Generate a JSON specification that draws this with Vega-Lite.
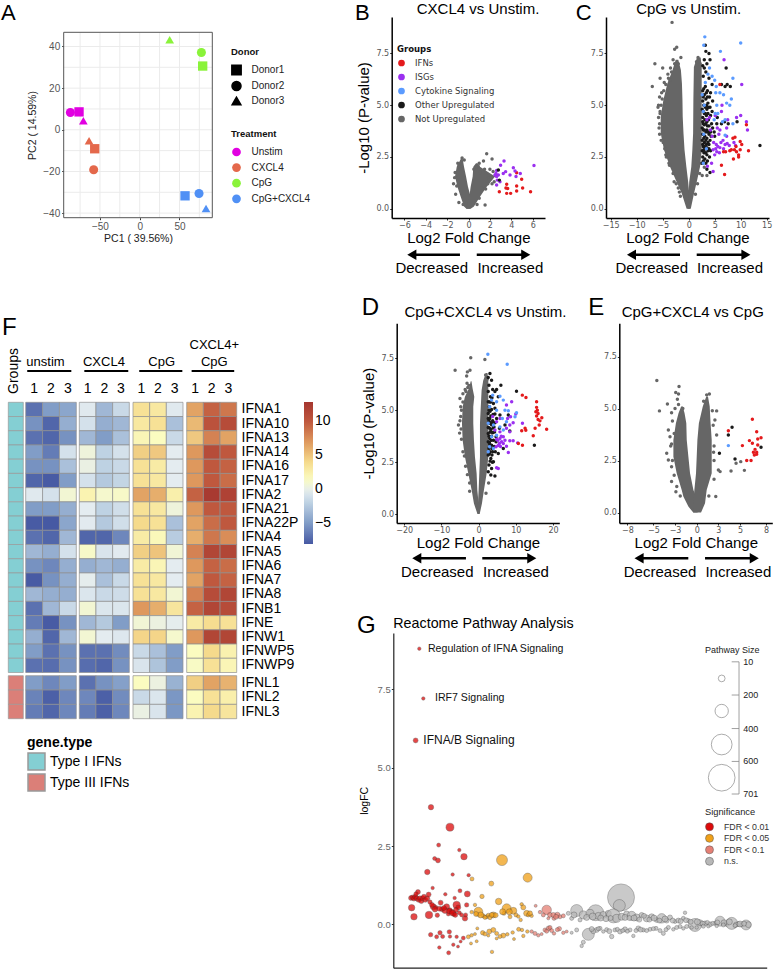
{
"$schema":"https://vega.github.io/schema/vega-lite/v6.json",
"width":777,"height":969,"padding":0,"autosize":{"type":"none"},"background":"white",
"config":{"view":{"stroke":null},"font":"Liberation Sans",
"axis":{"grid":false,"labelFont":"DejaVu Sans","labelFontSize":8,"labelColor":"#555","tickColor":"#333","tickSize":2,"labelPadding":1,"domainColor":"black","domainWidth":1.5,"titleFont":"Liberation Sans","titleFontSize":15,"titleFontWeight":"normal","titleColor":"black","labelOverlap":false,"labelFlush":false},
"legend":{"labelFont":"Liberation Sans","titleFont":"Liberation Sans","labelColor":"#222","titleColor":"#111"},
"style":{"lab":{"fontSize":15,"align":"center","baseline":"alphabetic","color":"black"},"let":{"fontSize":22,"align":"left","baseline":"alphabetic","color":"black"},"let2":{"fontSize":24,"align":"left","baseline":"alphabetic","color":"black"}}},
"resolve":{"scale":{"x":"independent","y":"independent","color":"independent","shape":"independent","size":"independent"},"axis":{"x":"independent","y":"independent"},"legend":{"color":"independent","shape":"independent","size":"independent"}},
"datasets":{
"heat":[
{"g":"IFNA1","t":"u","c":1,"v":-7},{"g":"IFNA1","t":"u","c":2,"v":-5},{"g":"IFNA1","t":"u","c":3,"v":-4.5},{"g":"IFNA1","t":"x","c":1,"v":-0.5},{"g":"IFNA1","t":"x","c":2,"v":-3.5},{"g":"IFNA1","t":"x","c":3,"v":-1.5},{"g":"IFNA1","t":"p","c":1,"v":3.5},{"g":"IFNA1","t":"p","c":2,"v":3},{"g":"IFNA1","t":"p","c":3,"v":-0.5},{"g":"IFNA1","t":"b","c":1,"v":6.5},{"g":"IFNA1","t":"b","c":2,"v":9.5},{"g":"IFNA1","t":"b","c":3,"v":8.5},
{"g":"IFNA10","t":"u","c":1,"v":-5.5},{"g":"IFNA10","t":"u","c":2,"v":-7.5},{"g":"IFNA10","t":"u","c":3,"v":-4},{"g":"IFNA10","t":"x","c":1,"v":-1},{"g":"IFNA10","t":"x","c":2,"v":-4},{"g":"IFNA10","t":"x","c":3,"v":-3.5},{"g":"IFNA10","t":"p","c":1,"v":3},{"g":"IFNA10","t":"p","c":2,"v":3.5},{"g":"IFNA10","t":"p","c":3,"v":-3},{"g":"IFNA10","t":"b","c":1,"v":5.5},{"g":"IFNA10","t":"b","c":2,"v":10.5},{"g":"IFNA10","t":"b","c":3,"v":11},
{"g":"IFNA13","t":"u","c":1,"v":-7},{"g":"IFNA13","t":"u","c":2,"v":-7.5},{"g":"IFNA13","t":"u","c":3,"v":-5.5},{"g":"IFNA13","t":"x","c":1,"v":-3.5},{"g":"IFNA13","t":"x","c":2,"v":-5},{"g":"IFNA13","t":"x","c":3,"v":-3},{"g":"IFNA13","t":"p","c":1,"v":2},{"g":"IFNA13","t":"p","c":2,"v":1.5},{"g":"IFNA13","t":"p","c":3,"v":-1.5},{"g":"IFNA13","t":"b","c":1,"v":4.8},{"g":"IFNA13","t":"b","c":2,"v":8},{"g":"IFNA13","t":"b","c":3,"v":6.5},
{"g":"IFNA14","t":"u","c":1,"v":-5},{"g":"IFNA14","t":"u","c":2,"v":-6.5},{"g":"IFNA14","t":"u","c":3,"v":-1},{"g":"IFNA14","t":"x","c":1,"v":0.5},{"g":"IFNA14","t":"x","c":2,"v":-2},{"g":"IFNA14","t":"x","c":3,"v":-1},{"g":"IFNA14","t":"p","c":1,"v":4.5},{"g":"IFNA14","t":"p","c":2,"v":4.8},{"g":"IFNA14","t":"p","c":3,"v":-0.3},{"g":"IFNA14","t":"b","c":1,"v":7},{"g":"IFNA14","t":"b","c":2,"v":11},{"g":"IFNA14","t":"b","c":3,"v":10},
{"g":"IFNA16","t":"u","c":1,"v":-5.5},{"g":"IFNA16","t":"u","c":2,"v":-5.5},{"g":"IFNA16","t":"u","c":3,"v":-3},{"g":"IFNA16","t":"x","c":1,"v":0.2},{"g":"IFNA16","t":"x","c":2,"v":-2},{"g":"IFNA16","t":"x","c":3,"v":-1.5},{"g":"IFNA16","t":"p","c":1,"v":3.5},{"g":"IFNA16","t":"p","c":2,"v":2.8},{"g":"IFNA16","t":"p","c":3,"v":-0.3},{"g":"IFNA16","t":"b","c":1,"v":7},{"g":"IFNA16","t":"b","c":2,"v":10},{"g":"IFNA16","t":"b","c":3,"v":9.5},
{"g":"IFNA17","t":"u","c":1,"v":-7.5},{"g":"IFNA17","t":"u","c":2,"v":-8},{"g":"IFNA17","t":"u","c":3,"v":-5},{"g":"IFNA17","t":"x","c":1,"v":-1},{"g":"IFNA17","t":"x","c":2,"v":-2.5},{"g":"IFNA17","t":"x","c":3,"v":-1.8},{"g":"IFNA17","t":"p","c":1,"v":3.5},{"g":"IFNA17","t":"p","c":2,"v":3},{"g":"IFNA17","t":"p","c":3,"v":-0.3},{"g":"IFNA17","t":"b","c":1,"v":7},{"g":"IFNA17","t":"b","c":2,"v":10},{"g":"IFNA17","t":"b","c":3,"v":9},
{"g":"IFNA2","t":"u","c":1,"v":-0.5},{"g":"IFNA2","t":"u","c":2,"v":-1},{"g":"IFNA2","t":"u","c":3,"v":0.8},{"g":"IFNA2","t":"x","c":1,"v":2.2},{"g":"IFNA2","t":"x","c":2,"v":1},{"g":"IFNA2","t":"x","c":3,"v":1.2},{"g":"IFNA2","t":"p","c":1,"v":6.5},{"g":"IFNA2","t":"p","c":2,"v":6},{"g":"IFNA2","t":"p","c":3,"v":2.5},{"g":"IFNA2","t":"b","c":1,"v":9.5},{"g":"IFNA2","t":"b","c":2,"v":12.5},{"g":"IFNA2","t":"b","c":3,"v":11.8},
{"g":"IFNA21","t":"u","c":1,"v":-5},{"g":"IFNA21","t":"u","c":2,"v":-5},{"g":"IFNA21","t":"u","c":3,"v":-4},{"g":"IFNA21","t":"x","c":1,"v":-0.3},{"g":"IFNA21","t":"x","c":2,"v":-2},{"g":"IFNA21","t":"x","c":3,"v":-1.2},{"g":"IFNA21","t":"p","c":1,"v":3.5},{"g":"IFNA21","t":"p","c":2,"v":3},{"g":"IFNA21","t":"p","c":3,"v":0.5},{"g":"IFNA21","t":"b","c":1,"v":7},{"g":"IFNA21","t":"b","c":2,"v":10},{"g":"IFNA21","t":"b","c":3,"v":10},
{"g":"IFNA22P","t":"u","c":1,"v":-8},{"g":"IFNA22P","t":"u","c":2,"v":-8.1},{"g":"IFNA22P","t":"u","c":3,"v":-4.5},{"g":"IFNA22P","t":"x","c":1,"v":-0.4},{"g":"IFNA22P","t":"x","c":2,"v":-2.5},{"g":"IFNA22P","t":"x","c":3,"v":-1.2},{"g":"IFNA22P","t":"p","c":1,"v":4},{"g":"IFNA22P","t":"p","c":2,"v":3.5},{"g":"IFNA22P","t":"p","c":3,"v":-3},{"g":"IFNA22P","t":"b","c":1,"v":6.5},{"g":"IFNA22P","t":"b","c":2,"v":9},{"g":"IFNA22P","t":"b","c":3,"v":10},
{"g":"IFNA4","t":"u","c":1,"v":-7},{"g":"IFNA4","t":"u","c":2,"v":-7.5},{"g":"IFNA4","t":"u","c":3,"v":-3.5},{"g":"IFNA4","t":"x","c":1,"v":-7.5},{"g":"IFNA4","t":"x","c":2,"v":-7.5},{"g":"IFNA4","t":"x","c":3,"v":-6},{"g":"IFNA4","t":"p","c":1,"v":2.8},{"g":"IFNA4","t":"p","c":2,"v":1.8},{"g":"IFNA4","t":"p","c":3,"v":-2.3},{"g":"IFNA4","t":"b","c":1,"v":6},{"g":"IFNA4","t":"b","c":2,"v":8.5},{"g":"IFNA4","t":"b","c":3,"v":7.5},
{"g":"IFNA5","t":"u","c":1,"v":-3.5},{"g":"IFNA5","t":"u","c":2,"v":-4},{"g":"IFNA5","t":"u","c":3,"v":-1},{"g":"IFNA5","t":"x","c":1,"v":1.2},{"g":"IFNA5","t":"x","c":2,"v":-0.8},{"g":"IFNA5","t":"x","c":3,"v":-0.4},{"g":"IFNA5","t":"p","c":1,"v":4.5},{"g":"IFNA5","t":"p","c":2,"v":5},{"g":"IFNA5","t":"p","c":3,"v":0.7},{"g":"IFNA5","t":"b","c":1,"v":8},{"g":"IFNA5","t":"b","c":2,"v":11.5},{"g":"IFNA5","t":"b","c":3,"v":11.5},
{"g":"IFNA6","t":"u","c":1,"v":-5.5},{"g":"IFNA6","t":"u","c":2,"v":-6},{"g":"IFNA6","t":"u","c":3,"v":-4},{"g":"IFNA6","t":"x","c":1,"v":-4},{"g":"IFNA6","t":"x","c":2,"v":-3.5},{"g":"IFNA6","t":"x","c":3,"v":-4},{"g":"IFNA6","t":"p","c":1,"v":2.8},{"g":"IFNA6","t":"p","c":2,"v":2},{"g":"IFNA6","t":"p","c":3,"v":-0.3},{"g":"IFNA6","t":"b","c":1,"v":7},{"g":"IFNA6","t":"b","c":2,"v":9.5},{"g":"IFNA6","t":"b","c":3,"v":9},
{"g":"IFNA7","t":"u","c":1,"v":-8},{"g":"IFNA7","t":"u","c":2,"v":-5.5},{"g":"IFNA7","t":"u","c":3,"v":-4},{"g":"IFNA7","t":"x","c":1,"v":-0.2},{"g":"IFNA7","t":"x","c":2,"v":-3},{"g":"IFNA7","t":"x","c":3,"v":-1.5},{"g":"IFNA7","t":"p","c":1,"v":3.5},{"g":"IFNA7","t":"p","c":2,"v":3},{"g":"IFNA7","t":"p","c":3,"v":-0.3},{"g":"IFNA7","t":"b","c":1,"v":6.5},{"g":"IFNA7","t":"b","c":2,"v":10},{"g":"IFNA7","t":"b","c":3,"v":9.5},
{"g":"IFNA8","t":"u","c":1,"v":-3.5},{"g":"IFNA8","t":"u","c":2,"v":-4},{"g":"IFNA8","t":"u","c":3,"v":-4},{"g":"IFNA8","t":"x","c":1,"v":-0.7},{"g":"IFNA8","t":"x","c":2,"v":-1.5},{"g":"IFNA8","t":"x","c":3,"v":-1.3},{"g":"IFNA8","t":"p","c":1,"v":3.5},{"g":"IFNA8","t":"p","c":2,"v":3},{"g":"IFNA8","t":"p","c":3,"v":0.8},{"g":"IFNA8","t":"b","c":1,"v":8},{"g":"IFNA8","t":"b","c":2,"v":11},{"g":"IFNA8","t":"b","c":3,"v":11.5},
{"g":"IFNB1","t":"u","c":1,"v":-7},{"g":"IFNB1","t":"u","c":2,"v":-3.5},{"g":"IFNB1","t":"u","c":3,"v":-1.5},{"g":"IFNB1","t":"x","c":1,"v":0.8},{"g":"IFNB1","t":"x","c":2,"v":-0.7},{"g":"IFNB1","t":"x","c":3,"v":-0.7},{"g":"IFNB1","t":"p","c":1,"v":7},{"g":"IFNB1","t":"p","c":2,"v":6},{"g":"IFNB1","t":"p","c":3,"v":3.2},{"g":"IFNB1","t":"b","c":1,"v":9.5},{"g":"IFNB1","t":"b","c":2,"v":11.5},{"g":"IFNB1","t":"b","c":3,"v":11},
{"g":"IFNE","t":"u","c":1,"v":-6.5},{"g":"IFNE","t":"u","c":2,"v":-8},{"g":"IFNE","t":"u","c":3,"v":-5.5},{"g":"IFNE","t":"x","c":1,"v":-3.5},{"g":"IFNE","t":"x","c":2,"v":-2.5},{"g":"IFNE","t":"x","c":3,"v":-5},{"g":"IFNE","t":"p","c":1,"v":0.7},{"g":"IFNE","t":"p","c":2,"v":0.3},{"g":"IFNE","t":"p","c":3,"v":-0.2},{"g":"IFNE","t":"b","c":1,"v":2.8},{"g":"IFNE","t":"b","c":2,"v":3.8},{"g":"IFNE","t":"b","c":3,"v":3.5},
{"g":"IFNW1","t":"u","c":1,"v":-4},{"g":"IFNW1","t":"u","c":2,"v":-7.5},{"g":"IFNW1","t":"u","c":3,"v":-3.5},{"g":"IFNW1","t":"x","c":1,"v":0.8},{"g":"IFNW1","t":"x","c":2,"v":-0.3},{"g":"IFNW1","t":"x","c":3,"v":-0.6},{"g":"IFNW1","t":"p","c":1,"v":4.2},{"g":"IFNW1","t":"p","c":2,"v":4.2},{"g":"IFNW1","t":"p","c":3,"v":1},{"g":"IFNW1","t":"b","c":1,"v":7},{"g":"IFNW1","t":"b","c":2,"v":11.5},{"g":"IFNW1","t":"b","c":3,"v":11.5},
{"g":"IFNWP5","t":"u","c":1,"v":-5},{"g":"IFNWP5","t":"u","c":2,"v":-7},{"g":"IFNWP5","t":"u","c":3,"v":-5.5},{"g":"IFNWP5","t":"x","c":1,"v":-7},{"g":"IFNWP5","t":"x","c":2,"v":-7},{"g":"IFNWP5","t":"x","c":3,"v":-5.8},{"g":"IFNWP5","t":"p","c":1,"v":-1.5},{"g":"IFNWP5","t":"p","c":2,"v":-3},{"g":"IFNWP5","t":"p","c":3,"v":-5},{"g":"IFNWP5","t":"b","c":1,"v":1.5},{"g":"IFNWP5","t":"b","c":2,"v":4},{"g":"IFNWP5","t":"b","c":3,"v":2.3},
{"g":"IFNWP9","t":"u","c":1,"v":-7},{"g":"IFNWP9","t":"u","c":2,"v":-7.2},{"g":"IFNWP9","t":"u","c":3,"v":-5.5},{"g":"IFNWP9","t":"x","c":1,"v":-7.2},{"g":"IFNWP9","t":"x","c":2,"v":-7.5},{"g":"IFNWP9","t":"x","c":3,"v":-5.5},{"g":"IFNWP9","t":"p","c":1,"v":-0.8},{"g":"IFNWP9","t":"p","c":2,"v":-2.8},{"g":"IFNWP9","t":"p","c":3,"v":-5},{"g":"IFNWP9","t":"b","c":1,"v":1.3},{"g":"IFNWP9","t":"b","c":2,"v":3.5},{"g":"IFNWP9","t":"b","c":3,"v":2},
{"g":"IFNL1","t":"u","c":1,"v":-5},{"g":"IFNL1","t":"u","c":2,"v":-6},{"g":"IFNL1","t":"u","c":3,"v":-5},{"g":"IFNL1","t":"x","c":1,"v":-7},{"g":"IFNL1","t":"x","c":2,"v":-5.5},{"g":"IFNL1","t":"x","c":3,"v":-4.8},{"g":"IFNL1","t":"p","c":1,"v":1.5},{"g":"IFNL1","t":"p","c":2,"v":0.3},{"g":"IFNL1","t":"p","c":3,"v":-3.8},{"g":"IFNL1","t":"b","c":1,"v":4.5},{"g":"IFNL1","t":"b","c":2,"v":6.5},{"g":"IFNL1","t":"b","c":3,"v":5.8},
{"g":"IFNL2","t":"u","c":1,"v":-6.2},{"g":"IFNL2","t":"u","c":2,"v":-7.8},{"g":"IFNL2","t":"u","c":3,"v":-6},{"g":"IFNL2","t":"x","c":1,"v":-6},{"g":"IFNL2","t":"x","c":2,"v":-7.8},{"g":"IFNL2","t":"x","c":3,"v":-5.8},{"g":"IFNL2","t":"p","c":1,"v":-1.5},{"g":"IFNL2","t":"p","c":2,"v":-0.7},{"g":"IFNL2","t":"p","c":3,"v":-5.3},{"g":"IFNL2","t":"b","c":1,"v":1.5},{"g":"IFNL2","t":"b","c":2,"v":3.5},{"g":"IFNL2","t":"b","c":3,"v":2.5},
{"g":"IFNL3","t":"u","c":1,"v":-6.5},{"g":"IFNL3","t":"u","c":2,"v":-7.5},{"g":"IFNL3","t":"u","c":3,"v":-6},{"g":"IFNL3","t":"x","c":1,"v":-6.5},{"g":"IFNL3","t":"x","c":2,"v":-7.8},{"g":"IFNL3","t":"x","c":3,"v":-6},{"g":"IFNL3","t":"p","c":1,"v":0.2},{"g":"IFNL3","t":"p","c":2,"v":-0.8},{"g":"IFNL3","t":"p","c":3,"v":-5.3},{"g":"IFNL3","t":"b","c":1,"v":2.2},{"g":"IFNL3","t":"b","c":2,"v":4},{"g":"IFNL3","t":"b","c":3,"v":3.2}
],
"genes":[{"g":"IFNA1","k":"Type I IFNs"},{"g":"IFNA10","k":"Type I IFNs"},{"g":"IFNA13","k":"Type I IFNs"},{"g":"IFNA14","k":"Type I IFNs"},{"g":"IFNA16","k":"Type I IFNs"},{"g":"IFNA17","k":"Type I IFNs"},{"g":"IFNA2","k":"Type I IFNs"},{"g":"IFNA21","k":"Type I IFNs"},{"g":"IFNA22P","k":"Type I IFNs"},{"g":"IFNA4","k":"Type I IFNs"},{"g":"IFNA5","k":"Type I IFNs"},{"g":"IFNA6","k":"Type I IFNs"},{"g":"IFNA7","k":"Type I IFNs"},{"g":"IFNA8","k":"Type I IFNs"},{"g":"IFNB1","k":"Type I IFNs"},{"g":"IFNE","k":"Type I IFNs"},{"g":"IFNW1","k":"Type I IFNs"},{"g":"IFNWP5","k":"Type I IFNs"},{"g":"IFNWP9","k":"Type I IFNs"},{"g":"IFNL1","k":"Type III IFNs"},{"g":"IFNL2","k":"Type III IFNs"},{"g":"IFNL3","k":"Type III IFNs"}]
},
"layer":[
{"data":{"values":[{"tr":"Unstim","do":"Donor1","x":-76.3,"y":8.6},{"tr":"Unstim","do":"Donor2","x":-87.2,"y":8.3},{"tr":"Unstim","do":"Donor3","x":-70.9,"y":4.3},{"tr":"CXCL4","do":"Donor3","x":-63.7,"y":-5.3},{"tr":"CXCL4","do":"Donor1","x":-56.6,"y":-9.1},{"tr":"CXCL4","do":"Donor2","x":-57.9,"y":-19.2},{"tr":"CpG","do":"Donor3","x":37.7,"y":43.2},{"tr":"CpG","do":"Donor2","x":77.6,"y":37.1},{"tr":"CpG","do":"Donor1","x":79.2,"y":30.6},{"tr":"CpG+CXCL4","do":"Donor1","x":57,"y":-31.7},{"tr":"CpG+CXCL4","do":"Donor2","x":74.6,"y":-30.6},{"tr":"CpG+CXCL4","do":"Donor3","x":83.4,"y":-37.8}]},
"encoding":{"x":{"field":"x","type":"quantitative","scale":{"domain":[-95.6,91.3],"range":[63.7,212.3],"nice":false,"zero":false},"axis":{"orient":"bottom","offset":-751.3,"values":[-50,0,50],"domain":false,"labelFont":"Liberation Sans","labelFontSize":10,"labelPadding":2,"title":"PC1 ( 39.56%)","titleFontSize":10.5,"titleColor":"#222","titlePadding":2}},"y":{"field":"y","type":"quantitative","scale":{"domain":[-42.2,46.8],"range":[217.7,32.3],"nice":false,"zero":false},"axis":{"orient":"left","offset":-63.7,"values":[-40,-20,0,20,40],"domain":false,"labelFont":"Liberation Sans","labelFontSize":10,"labelPadding":2,"title":"PC2 ( 14.59%)","titleFontSize":10.5,"titleColor":"#222","titlePadding":5}}},
"layer":[
{"data":{"values":[{"x":-75,"y":-42.2,"y2":46.8},{"x":-25,"y":-42.2,"y2":46.8},{"x":25,"y":-42.2,"y2":46.8},{"x":75,"y":-42.2,"y2":46.8},{"x":-50,"y":-42.2,"y2":46.8},{"x":0,"y":-42.2,"y2":46.8},{"x":50,"y":-42.2,"y2":46.8}]},"mark":{"type":"rule","color":"#ebebeb","strokeWidth":1},"encoding":{"y2":{"field":"y2"}}},
{"data":{"values":[{"x":-95.6,"x2":91.3,"y":40},{"x":-95.6,"x2":91.3,"y":30},{"x":-95.6,"x2":91.3,"y":20},{"x":-95.6,"x2":91.3,"y":10},{"x":-95.6,"x2":91.3,"y":0},{"x":-95.6,"x2":91.3,"y":-10},{"x":-95.6,"x2":91.3,"y":-20},{"x":-95.6,"x2":91.3,"y":-30},{"x":-95.6,"x2":91.3,"y":-40}]},"mark":{"type":"rule","color":"#ebebeb","strokeWidth":1},"encoding":{"x2":{"field":"x2"}}},
{"data":{"values":[{"x":-95.6,"x2":91.3,"y":-42.2,"y2":46.8}]},"mark":{"type":"rect","fillOpacity":0,"stroke":"#555","strokeWidth":1},"encoding":{"x2":{"field":"x2"},"y2":{"field":"y2"}}},
{"mark":{"type":"point","filled":true,"opacity":1},"encoding":{"size":{"field":"do","type":"nominal","scale":{"domain":["Donor1","Donor2","Donor3"],"range":[87,76,144]},"legend":{"orient":"none","legendX":231,"legendY":47,"title":"Donor","titleFontSize":9.5,"labelFontSize":10,"symbolFillColor":"black","symbolStrokeColor":"black","rowPadding":-1,"titlePadding":8,"labelOffset":9.5,"symbolOpacity":1}},"color":{"field":"tr","type":"nominal","scale":{"domain":["Unstim","CXCL4","CpG","CpG+CXCL4"],"range":["#E100E1","#E4684B","#8AF33A","#5090F5"]},"legend":{"orient":"none","legendX":231,"legendY":129,"title":"Treatment","titleFontSize":9.5,"labelFontSize":10,"symbolType":"circle","symbolSize":76,"rowPadding":4.6,"titlePadding":8,"labelOffset":9.5,"symbolOpacity":1}},"shape":{"field":"do","type":"nominal","scale":{"domain":["Donor1","Donor2","Donor3"],"range":["square","circle","triangle-up"]},"legend":{"orient":"none","legendX":231,"legendY":47,"title":"Donor","titleFontSize":9.5,"labelFontSize":10,"symbolFillColor":"black","symbolStrokeColor":"black","rowPadding":-1,"titlePadding":8,"labelOffset":9.5,"symbolOpacity":1}}}},
{"data":{"values":[{"x":-174.5,"y":52.7,"t":"A"}]},"mark":{"type":"text","style":"let"},"encoding":{"text":{"field":"t"}}}
]},

{"encoding":{"x":{"field":"x","type":"quantitative","scale":{"domain":[-7.18,7.15],"range":[391.7,545],"nice":false,"zero":false},"axis":{"orient":"bottom","offset":-751,"values":[-6,-4,-2,0,2,4,6],"title":"Log2 Fold Change","titlePadding":1}},"y":{"field":"y","type":"quantitative","scale":{"domain":[-0.45,9.26],"range":[218,17],"nice":false,"zero":false},"axis":{"orient":"left","offset":-391.7,"values":[0,2.5,5,7.5],"format":".1f","title":"-Log10 (P-value)","titlePadding":4}}},
"layer":[
{"data":{"values":[{"arm":"L","y":0,"x":-0.2,"x2":0.2},{"arm":"L","y":0.1,"x":-0.42,"x2":0.1},{"arm":"L","y":0.58,"x":-0.73,"x2":0.2},{"arm":"L","y":1.06,"x":-1.04,"x2":-0.05},{"arm":"L","y":1.55,"x":-1.26,"x2":-0.23},{"arm":"L","y":2.03,"x":-1.1,"x2":-0.42},{"arm":"L","y":2.43,"x":-0.7,"x2":-0.55},{"arm":"R","y":0,"x":-0.2,"x2":0.2},{"arm":"R","y":0.1,"x":-0.17,"x2":0.51},{"arm":"R","y":0.58,"x":0.08,"x2":1.07},{"arm":"R","y":1.06,"x":0.2,"x2":1.7},{"arm":"R","y":1.55,"x":0.39,"x2":2.48},{"arm":"R","y":2.03,"x":0.45,"x2":1.07},{"arm":"R","y":2.2,"x":0.7,"x2":0.85}]},"mark":{"type":"area","orient":"horizontal","color":"#666"},"encoding":{"x2":{"field":"x2"},"detail":{"field":"arm"}}},
{"data":{"values":[{"x":1.7,"y":2.65},{"x":2.2,"y":2.4},{"x":-0.6,"y":2.45},{"x":-0.4,"y":2.35},{"x":-1,"y":2.2},{"x":-0.9,"y":2.05},{"x":1,"y":2.2},{"x":0.9,"y":2.05},{"x":1.4,"y":2.3},{"x":2,"y":1.9},{"x":2.3,"y":1.8},{"x":2.5,"y":1.6},{"x":2.4,"y":1.3},{"x":2.2,"y":1.2},{"x":1.7,"y":1.6},{"x":1.9,"y":1.4},{"x":1.2,"y":1},{"x":1.6,"y":0.95},{"x":1.55,"y":0.18},{"x":-1.3,"y":1.5},{"x":-1.4,"y":1.2},{"x":-1.1,"y":1.1},{"x":-1.2,"y":0.7},{"x":-0.9,"y":0.3},{"x":-0.5,"y":0.2},{"x":1,"y":0.5},{"x":0.8,"y":0.2},{"x":1.5,"y":1.9},{"x":1.1,"y":1.75},{"x":0.7,"y":2},{"x":2.1,"y":1.5},{"x":-1.25,"y":1.75},{"x":-0.75,"y":1.9},{"x":0.5,"y":1.9},{"x":1.8,"y":1.2}]},"mark":{"type":"circle","size":12,"opacity":1,"color":"#666"}},
{"data":{"values":[{"x":4.5,"y":1.74,"g":"IFN"},{"x":4.97,"y":1.42,"g":"IFN"},{"x":3.57,"y":1.18,"g":"IFN"},{"x":5.06,"y":1,"g":"IFN"},{"x":4.5,"y":1.1,"g":"IFN"},{"x":3.66,"y":0.98,"g":"IFN"},{"x":2.88,"y":0.82,"g":"IFN"},{"x":4.5,"y":0.85,"g":"IFN"},{"x":5.8,"y":0.82,"g":"IFN"},{"x":3.57,"y":0.74,"g":"IFN"},{"x":3.94,"y":0.74,"g":"IFN"},{"x":3.5,"y":1,"g":"IFN"},{"x":6.12,"y":2.09,"g":"ISG"},{"x":3.32,"y":2.3,"g":"ISG"},{"x":3,"y":2.1,"g":"ISG"},{"x":4.19,"y":1.98,"g":"ISG"},{"x":3.47,"y":1.79,"g":"ISG"},{"x":2.63,"y":1.84,"g":"ISG"},{"x":3.25,"y":1.7,"g":"ISG"},{"x":2.48,"y":1.63,"g":"ISG"},{"x":3.88,"y":1.63,"g":"ISG"},{"x":4.35,"y":1.82,"g":"ISG"},{"x":4.44,"y":1.55,"g":"ISG"},{"x":4.84,"y":1.7,"g":"ISG"},{"x":2.79,"y":1.63,"g":"ISG"},{"x":2.63,"y":1.55,"g":"ISG"},{"x":2.69,"y":1.38,"g":"ISG"},{"x":2.94,"y":1.3,"g":"ISG"},{"x":2.63,"y":1.14,"g":"ISG"},{"x":2.57,"y":1.7,"g":"ISG"},{"x":2.79,"y":1.87,"g":"Oth"},{"x":2.88,"y":1.38,"g":"Oth"}]},"mark":{"type":"circle","size":12,"opacity":1},"encoding":{"color":{"field":"g","type":"nominal","scale":{"domain":["IFN","ISG","Cyt","Oth","Not"],"range":["#E41A1C","#9B30F0","#5B9BFF","#1a1a1a","#666666"]},"legend":{"orient":"none","legendX":397,"legendY":45,"title":"Groups","titleFont":"DejaVu Sans","titleFontSize":8.5,"labelFont":"DejaVu Sans","labelFontSize":8.5,"labelColor":"#333","symbolType":"circle","symbolSize":45,"rowPadding":5,"labelOffset":9,"symbolOpacity":1,"labelExpr":"{'IFN':'IFNs','ISG':'ISGs','Cyt':'Cytokine Signaling','Oth':'Other Upregulated','Not':'Not Upregulated'}[datum.label]"}}}},
{"data":{"values":[{"x":-0.8,"x2":-5.3,"y":-2.22},{"x":0.77,"x2":5.35,"y":-2.22}]},"mark":{"type":"rule","strokeWidth":2.5,"color":"black"},"encoding":{"x2":{"field":"x2"}}},
{"data":{"values":[{"x":-5.3,"y":-2.22}]},"mark":{"type":"point","shape":"triangle-left","size":110,"filled":true,"color":"black","opacity":1}},
{"data":{"values":[{"x":5.35,"y":-2.22}]},"mark":{"type":"point","shape":"triangle-right","size":110,"filled":true,"color":"black","opacity":1}},
{"data":{"values":[{"x":0.89,"y":9.42,"t":"CXCL4 vs Unstim."},{"x":-3.44,"y":-3.09,"t":"Decreased"},{"x":3.91,"y":-3.09,"t":"Increased"}]},"mark":{"type":"text","style":"lab"},"encoding":{"text":{"field":"t"}}},
{"data":{"values":[{"x":-10.6,"y":9.12,"t":"B"}]},"mark":{"type":"text","style":"let"},"encoding":{"text":{"field":"t"}}}
]},

{"encoding":{"x":{"field":"x","type":"quantitative","scale":{"domain":[-15.9,15.44],"range":[606,769],"nice":false,"zero":false},"axis":{"orient":"bottom","offset":-751,"values":[-15,-10,-5,0,5,10,15],"title":"Log2 Fold Change","titlePadding":1}},"y":{"field":"y","type":"quantitative","scale":{"domain":[-0.45,9.26],"range":[218,17],"nice":false,"zero":false},"axis":{"orient":"left","offset":-606,"values":[0,2.5,5,7.5],"format":".1f","title":null}}},
"layer":[
{"data":{"values":[{"arm":"L","y":0,"x":-0.4,"x2":0.25},{"arm":"L","y":0.74,"x":-1.35,"x2":0.1},{"arm":"L","y":1.29,"x":-2.31,"x2":-0.1},{"arm":"L","y":2.03,"x":-3.59,"x2":-0.45},{"arm":"L","y":2.83,"x":-4.74,"x2":-0.8},{"arm":"L","y":3.64,"x":-5.38,"x2":-1},{"arm":"L","y":4.44,"x":-5.38,"x2":-1.15},{"arm":"L","y":5.25,"x":-4.87,"x2":-1.2},{"arm":"L","y":6.05,"x":-4.1,"x2":-1.3},{"arm":"L","y":6.7,"x":-3.1,"x2":-1.5},{"arm":"L","y":7.2,"x":-2.5,"x2":-2},{"arm":"R","y":0,"x":-0.2,"x2":0.4},{"arm":"R","y":0.74,"x":0,"x2":1.03},{"arm":"R","y":1.29,"x":0.1,"x2":1.54},{"arm":"R","y":2.03,"x":0.5,"x2":2.18},{"arm":"R","y":2.83,"x":0.7,"x2":2.5},{"arm":"R","y":3.64,"x":0.85,"x2":2.5},{"arm":"R","y":5.25,"x":0.9,"x2":2.5},{"arm":"R","y":6.85,"x":1,"x2":2.5},{"arm":"R","y":7.3,"x":1.6,"x2":2.3}]},"mark":{"type":"area","orient":"horizontal","color":"#666"},"encoding":{"x2":{"field":"x2"},"detail":{"field":"arm"}}},
{"data":{"values":[{"x":-3.2,"y":9},{"x":-6.5,"y":7},{"x":-2.3,"y":7.8},{"x":-2.7,"y":7.7},{"x":-5,"y":6.8},{"x":-3,"y":7.2},{"x":-3.5,"y":6.8},{"x":-7,"y":5.9},{"x":-5.5,"y":6.3},{"x":-4.7,"y":6.1},{"x":-5.6,"y":5.4},{"x":-5.8,"y":5},{"x":-5.2,"y":5.6},{"x":-5.8,"y":4.4},{"x":-5.7,"y":3.9},{"x":-5.5,"y":4.7},{"x":-4.9,"y":3.2},{"x":-4.4,"y":2.6},{"x":2.2,"y":7},{"x":1.8,"y":7.3},{"x":-1.5,"y":7.3},{"x":1.5,"y":7.1},{"x":-4.6,"y":2.9},{"x":3,"y":2},{"x":3.5,"y":1.6},{"x":-3.8,"y":2.2},{"x":-3,"y":1.7},{"x":-2,"y":7},{"x":-4,"y":6.5},{"x":-3.6,"y":6.2},{"x":-5.9,"y":4.9},{"x":-5,"y":3.7},{"x":2.6,"y":1.6},{"x":2.9,"y":2.7},{"x":-2.8,"y":1.3},{"x":-1.8,"y":0.8},{"x":-3.7,"y":2.1},{"x":-4.3,"y":2.5},{"x":-5.3,"y":3.3},{"x":-5.6,"y":3.6},{"x":-5.6,"y":4.1},{"x":-5.5,"y":4.6},{"x":-5.3,"y":5},{"x":-5.1,"y":5.3},{"x":-4.8,"y":5.7},{"x":-4.4,"y":6},{"x":-3.9,"y":6.3},{"x":-3.3,"y":6.6},{"x":-2.7,"y":7},{"x":-2.4,"y":1.2},{"x":-2,"y":1},{"x":-1.6,"y":0.6},{"x":1.3,"y":0.7},{"x":1.7,"y":1.2},{"x":2.1,"y":1.7},{"x":2.4,"y":2.2}]},"mark":{"type":"circle","size":12,"opacity":1,"color":"#666"}},
{"data":{"values":[{"x":3.2,"y":7.9,"g":"Oth"},{"x":3.3,"y":7.6,"g":"Oth"},{"x":3.9,"y":7.5,"g":"Oth"},{"x":4.1,"y":7.2,"g":"Oth"},{"x":3,"y":7.2,"g":"Oth"},{"x":3.5,"y":7,"g":"Oth"},{"x":2.7,"y":6.9,"g":"Oth"},{"x":3,"y":6.8,"g":"Oth"},{"x":3.3,"y":6.6,"g":"Oth"},{"x":7.2,"y":6.8,"g":"Oth"},{"x":2.8,"y":6.4,"g":"Oth"},{"x":3.9,"y":6.3,"g":"Oth"},{"x":6.3,"y":6,"g":"Oth"},{"x":7,"y":5.9,"g":"Oth"},{"x":7.4,"y":6,"g":"Oth"},{"x":3.2,"y":5.9,"g":"Oth"},{"x":3.6,"y":5.7,"g":"Oth"},{"x":4.2,"y":5.6,"g":"Oth"},{"x":3,"y":5.5,"g":"Oth"},{"x":2.7,"y":5.2,"g":"Oth"},{"x":3.3,"y":5.3,"g":"Oth"},{"x":4,"y":5.4,"g":"Oth"},{"x":3.7,"y":5.1,"g":"Oth"},{"x":2.9,"y":5,"g":"Oth"},{"x":3.2,"y":4.9,"g":"Oth"},{"x":3.5,"y":4.8,"g":"Oth"},{"x":4.1,"y":4.9,"g":"Oth"},{"x":2.6,"y":4.8,"g":"Oth"},{"x":3,"y":4.6,"g":"Oth"},{"x":3.4,"y":4.5,"g":"Oth"},{"x":3.7,"y":4.6,"g":"Oth"},{"x":2.7,"y":4.4,"g":"Oth"},{"x":3.1,"y":4.3,"g":"Oth"},{"x":4.5,"y":4.7,"g":"Oth"},{"x":5.5,"y":4.4,"g":"Oth"},{"x":6.9,"y":4.2,"g":"Oth"},{"x":7.6,"y":4.1,"g":"Oth"},{"x":9.3,"y":4.2,"g":"Oth"},{"x":2.8,"y":4.1,"g":"Oth"},{"x":3.3,"y":4.1,"g":"Oth"},{"x":3.9,"y":4,"g":"Oth"},{"x":4.4,"y":4.1,"g":"Oth"},{"x":2.6,"y":3.9,"g":"Oth"},{"x":3,"y":3.8,"g":"Oth"},{"x":3.5,"y":3.8,"g":"Oth"},{"x":3.9,"y":3.6,"g":"Oth"},{"x":4.6,"y":3.9,"g":"Oth"},{"x":2.7,"y":3.6,"g":"Oth"},{"x":3.1,"y":3.5,"g":"Oth"},{"x":3.5,"y":3.4,"g":"Oth"},{"x":4.1,"y":3.3,"g":"Oth"},{"x":2.6,"y":3.3,"g":"Oth"},{"x":3,"y":3.2,"g":"Oth"},{"x":3.4,"y":3.1,"g":"Oth"},{"x":3.9,"y":3.1,"g":"Oth"},{"x":2.8,"y":3,"g":"Oth"},{"x":3.2,"y":2.9,"g":"Oth"},{"x":3.7,"y":2.8,"g":"Oth"},{"x":4.2,"y":2.8,"g":"Oth"},{"x":2.6,"y":2.8,"g":"Oth"},{"x":3,"y":2.7,"g":"Oth"},{"x":3.5,"y":2.6,"g":"Oth"},{"x":4,"y":2.5,"g":"Oth"},{"x":2.7,"y":2.5,"g":"Oth"},{"x":3.1,"y":2.4,"g":"Oth"},{"x":3.6,"y":2.3,"g":"Oth"},{"x":2.6,"y":2.2,"g":"Oth"},{"x":3.5,"y":1.9,"g":"Oth"},{"x":4.1,"y":1.75,"g":"Oth"},{"x":13.7,"y":3.05,"g":"Oth"},{"x":5,"y":3.5,"g":"Oth"},{"x":6.3,"y":4.1,"g":"Oth"},{"x":4.5,"y":6,"g":"Oth"},{"x":5.4,"y":4.1,"g":"Oth"},{"x":8,"y":5.9,"g":"Oth"},{"x":2.9,"y":5.8,"g":"Oth"},{"x":3.4,"y":5.6,"g":"Oth"},{"x":4.6,"y":5.2,"g":"Oth"},{"x":3.8,"y":4.3,"g":"Oth"},{"x":4.9,"y":3.7,"g":"Oth"},{"x":4.3,"y":3.5,"g":"Oth"},{"x":2.7,"y":5.7,"g":"Oth"},{"x":3.6,"y":5.4,"g":"Oth"},{"x":2.8,"y":5.4,"g":"Oth"},{"x":3.4,"y":5,"g":"Oth"},{"x":2.8,"y":4.7,"g":"Oth"},{"x":3.8,"y":4.9,"g":"Oth"},{"x":3.2,"y":4.6,"g":"Oth"},{"x":3.5,"y":4.2,"g":"Oth"},{"x":2.7,"y":4.2,"g":"Oth"},{"x":3,"y":4.05,"g":"Oth"},{"x":3.6,"y":4,"g":"Oth"},{"x":2.8,"y":3.8,"g":"Oth"},{"x":3.3,"y":3.7,"g":"Oth"},{"x":3.7,"y":3.7,"g":"Oth"},{"x":2.9,"y":3.4,"g":"Oth"},{"x":3.3,"y":3.3,"g":"Oth"},{"x":3.7,"y":3.2,"g":"Oth"},{"x":2.7,"y":3.1,"g":"Oth"},{"x":3,"y":3,"g":"Oth"},{"x":3.5,"y":2.95,"g":"Oth"},{"x":2.9,"y":2.85,"g":"Oth"},{"x":3.3,"y":2.7,"g":"Oth"},{"x":2.8,"y":2.3,"g":"Oth"},{"x":3.3,"y":2.2,"g":"Oth"},{"x":3.9,"y":2.9,"g":"Oth"},{"x":4.2,"y":3.7,"g":"Oth"},{"x":4.2,"y":4.5,"g":"Oth"},
{"x":6.8,"y":7.2,"g":"ISG"},{"x":10.2,"y":6,"g":"ISG"},{"x":11.1,"y":4.2,"g":"ISG"},{"x":11.3,"y":3.8,"g":"ISG"},{"x":10,"y":4.5,"g":"ISG"},{"x":9.2,"y":4.4,"g":"ISG"},{"x":7.5,"y":4.3,"g":"ISG"},{"x":7.3,"y":3.9,"g":"ISG"},{"x":6.3,"y":4.7,"g":"ISG"},{"x":5.1,"y":4.5,"g":"ISG"},{"x":4,"y":4.4,"g":"ISG"},{"x":6,"y":3.8,"g":"ISG"},{"x":5.8,"y":3.6,"g":"ISG"},{"x":4.5,"y":3.5,"g":"ISG"},{"x":4.8,"y":3.2,"g":"ISG"},{"x":5.3,"y":3.1,"g":"ISG"},{"x":5.6,"y":3,"g":"ISG"},{"x":5.2,"y":2.9,"g":"ISG"},{"x":6,"y":2.95,"g":"ISG"},{"x":6.2,"y":3.2,"g":"ISG"},{"x":6.6,"y":3.3,"g":"ISG"},{"x":7,"y":3.1,"g":"ISG"},{"x":7.4,"y":3.15,"g":"ISG"},{"x":7.8,"y":3.05,"g":"ISG"},{"x":4.7,"y":2.85,"g":"ISG"},{"x":5.4,"y":2.75,"g":"ISG"},{"x":5.9,"y":2.7,"g":"ISG"},{"x":6.7,"y":2.9,"g":"ISG"},{"x":5,"y":2.6,"g":"ISG"},{"x":4.4,"y":2.2,"g":"ISG"},{"x":4.7,"y":1.8,"g":"ISG"},{"x":3.6,"y":2.05,"g":"ISG"},{"x":9,"y":3.05,"g":"ISG"},{"x":8.7,"y":3.2,"g":"ISG"},{"x":3.5,"y":4.3,"g":"ISG"},{"x":4.2,"y":3.8,"g":"ISG"},{"x":5.5,"y":3.9,"g":"ISG"},{"x":7.3,"y":3.5,"g":"ISG"},{"x":6.4,"y":5,"g":"ISG"},
{"x":3.1,"y":8.3,"g":"Cyt"},{"x":2.9,"y":7.9,"g":"Cyt"},{"x":10,"y":8,"g":"Cyt"},{"x":6.1,"y":7.6,"g":"Cyt"},{"x":4,"y":6.8,"g":"Cyt"},{"x":4.5,"y":6.4,"g":"Cyt"},{"x":8.5,"y":6.3,"g":"Cyt"},{"x":3.2,"y":6.1,"g":"Cyt"},{"x":5,"y":6.2,"g":"Cyt"},{"x":5.3,"y":5.9,"g":"Cyt"},{"x":5.2,"y":5.6,"g":"Cyt"},{"x":6,"y":5.6,"g":"Cyt"},{"x":6.7,"y":5.5,"g":"Cyt"},{"x":8.2,"y":5.3,"g":"Cyt"},{"x":7.3,"y":5.1,"g":"Cyt"},{"x":7.9,"y":5,"g":"Cyt"},{"x":5.4,"y":5,"g":"Cyt"},{"x":3,"y":5,"g":"Cyt"},{"x":2.8,"y":4.7,"g":"Cyt"},{"x":5.1,"y":4.6,"g":"Cyt"},{"x":5.6,"y":4.6,"g":"Cyt"},{"x":4.9,"y":4.3,"g":"Cyt"},{"x":6.5,"y":4.2,"g":"Cyt"},{"x":7,"y":4.3,"g":"Cyt"},{"x":8.5,"y":4.1,"g":"Cyt"},{"x":7,"y":3.55,"g":"Cyt"},{"x":2.8,"y":2.2,"g":"Cyt"},{"x":3.4,"y":2.9,"g":"Cyt"},{"x":2.9,"y":3.6,"g":"Cyt"},{"x":3.7,"y":6.5,"g":"Cyt"},{"x":2.6,"y":5.5,"g":"Cyt"},
{"x":6,"y":6,"g":"IFN"},{"x":8.5,"y":3.4,"g":"IFN"},{"x":8.9,"y":3.45,"g":"IFN"},{"x":9.9,"y":3.25,"g":"IFN"},{"x":10.2,"y":3.1,"g":"IFN"},{"x":9.1,"y":3,"g":"IFN"},{"x":8.2,"y":2.85,"g":"IFN"},{"x":8.8,"y":2.85,"g":"IFN"},{"x":9.2,"y":2.75,"g":"IFN"},{"x":9.6,"y":2.6,"g":"IFN"},{"x":9.9,"y":2.85,"g":"IFN"},{"x":11.5,"y":2.8,"g":"IFN"},{"x":6.7,"y":2.75,"g":"IFN"},{"x":7.1,"y":2.75,"g":"IFN"},{"x":8.6,"y":2.4,"g":"IFN"},{"x":9.6,"y":2.5,"g":"IFN"},{"x":6.3,"y":2.1,"g":"IFN"},{"x":6.9,"y":1.65,"g":"IFN"},{"x":11.1,"y":4.05,"g":"IFN"},{"x":7.9,"y":2.8,"g":"IFN"}]},"mark":{"type":"circle","size":12,"opacity":1},"encoding":{"color":{"field":"g","type":"nominal","scale":{"domain":["IFN","ISG","Cyt","Oth","Not"],"range":["#E41A1C","#9B30F0","#5B9BFF","#1a1a1a","#666666"]},"legend":null}}},
{"data":{"values":[{"x":-1.67,"x2":-11,"y":-2.22},{"x":1.54,"x2":11,"y":-2.22}]},"mark":{"type":"rule","strokeWidth":2.5,"color":"black"},"encoding":{"x2":{"field":"x2"}}},
{"data":{"values":[{"x":-11,"y":-2.22}]},"mark":{"type":"point","shape":"triangle-left","size":110,"filled":true,"color":"black","opacity":1}},
{"data":{"values":[{"x":11,"y":-2.22}]},"mark":{"type":"point","shape":"triangle-right","size":110,"filled":true,"color":"black","opacity":1}},
{"data":{"values":[{"x":0,"y":9.42,"t":"CpG vs Unstim."},{"x":-7.1,"y":-3.09,"t":"Decreased"},{"x":7.95,"y":-3.09,"t":"Increased"}]},"mark":{"type":"text","style":"lab"},"encoding":{"text":{"field":"t"}}},
{"data":{"values":[{"x":-21.7,"y":9.12,"t":"C"}]},"mark":{"type":"text","style":"let"},"encoding":{"text":{"field":"t"}}}
]},

{"encoding":{"x":{"field":"x","type":"quantitative","scale":{"domain":[-22,21.7],"range":[396.7,559.3],"nice":false,"zero":false},"axis":{"orient":"bottom","offset":-446,"values":[-20,-10,0,10,20],"title":"Log2 Fold Change","titlePadding":1}},"y":{"field":"y","type":"quantitative","scale":{"domain":[-0.43,9.19],"range":[523,323.3],"nice":false,"zero":false},"axis":{"orient":"left","offset":-396.7,"values":[0,2.5,5,7.5],"format":".1f","title":"-Log10 (P-value)","titlePadding":4}}},
"layer":[
{"data":{"values":[{"arm":"L","y":0,"x":-0.3,"x2":0.2},{"arm":"L","y":0.51,"x":-1.24,"x2":0.02},{"arm":"L","y":1.16,"x":-1.86,"x2":-0.34},{"arm":"L","y":1.96,"x":-2.76,"x2":-0.52},{"arm":"L","y":2.76,"x":-3.66,"x2":-0.97},{"arm":"L","y":3.56,"x":-4.28,"x2":-1.24},{"arm":"L","y":4.37,"x":-4.46,"x2":-1.42},{"arm":"L","y":5.17,"x":-4.28,"x2":-1.42},{"arm":"L","y":5.65,"x":-3.66,"x2":-1.15},{"arm":"L","y":6.05,"x":-2.6,"x2":-1.6},{"arm":"L","y":6.4,"x":-2.1,"x2":-1.9},{"arm":"R","y":0,"x":-0.2,"x2":0.3},{"arm":"R","y":0.51,"x":-0.16,"x2":0.91},{"arm":"R","y":1.16,"x":0.02,"x2":1.45},{"arm":"R","y":1.96,"x":0.2,"x2":2.17},{"arm":"R","y":2.76,"x":0.38,"x2":2.62},{"arm":"R","y":4.37,"x":0.38,"x2":2.62},{"arm":"R","y":5.97,"x":0.82,"x2":2.62},{"arm":"R","y":6.45,"x":1.27,"x2":2.62},{"arm":"R","y":6.8,"x":2,"x2":2.4}]},"mark":{"type":"area","orient":"horizontal","color":"#666"},"encoding":{"x2":{"field":"x2"},"detail":{"field":"arm"}}},
{"data":{"values":[{"x":-6.3,"y":6.93},{"x":-2.1,"y":7.53},{"x":1.7,"y":7.45},{"x":-2.3,"y":6.93},{"x":-3,"y":6.85},{"x":-5,"y":5.57},{"x":-5.4,"y":4.29},{"x":-4.8,"y":5.17},{"x":-5,"y":4.5},{"x":-3.2,"y":6.65},{"x":-3.6,"y":6},{"x":-4.2,"y":5.8},{"x":1.9,"y":6.7},{"x":2.3,"y":6.5},{"x":-2.6,"y":6.2},{"x":-3.1,"y":6.3},{"x":-4.6,"y":3.6},{"x":-4.2,"y":3},{"x":-3.5,"y":2.3},{"x":-5.1,"y":3.9},{"x":2.7,"y":1.5},{"x":2,"y":1},{"x":-2.4,"y":1.1},{"x":-4.8,"y":4.7},{"x":-4.7,"y":4.1},{"x":-4.6,"y":5},{"x":-4.2,"y":5.4},{"x":-3.8,"y":2.8},{"x":-3,"y":1.9},{"x":-2.4,"y":1.5},{"x":-3.4,"y":5.9},{"x":-2.9,"y":6.1}]},"mark":{"type":"circle","size":12,"opacity":1,"color":"#666"}},
{"data":{"values":[{"x":3.06,"y":6.77,"g":"Oth"},{"x":2.6,"y":6.58,"g":"Oth"},{"x":3.5,"y":6.45,"g":"Oth"},{"x":2.8,"y":6.21,"g":"Oth"},{"x":4.85,"y":6,"g":"Oth"},{"x":6,"y":6.21,"g":"Oth"},{"x":3.8,"y":6,"g":"Oth"},{"x":4.4,"y":5.9,"g":"Oth"},{"x":2.6,"y":5.9,"g":"Oth"},{"x":5.3,"y":5.65,"g":"Oth"},{"x":3.2,"y":5.65,"g":"Oth"},{"x":2.6,"y":5.41,"g":"Oth"},{"x":4,"y":5.33,"g":"Oth"},{"x":2.9,"y":5.17,"g":"Oth"},{"x":3.5,"y":5.04,"g":"Oth"},{"x":2.6,"y":4.85,"g":"Oth"},{"x":4.4,"y":4.82,"g":"Oth"},{"x":3.3,"y":4.72,"g":"Oth"},{"x":5.75,"y":4.77,"g":"Oth"},{"x":2.6,"y":4.6,"g":"Oth"},{"x":3.8,"y":4.5,"g":"Oth"},{"x":4.85,"y":4.6,"g":"Oth"},{"x":3,"y":4.37,"g":"Oth"},{"x":2.6,"y":4.17,"g":"Oth"},{"x":4.15,"y":4.2,"g":"Oth"},{"x":3.3,"y":4.08,"g":"Oth"},{"x":5.6,"y":4.13,"g":"Oth"},{"x":7.1,"y":4.29,"g":"Oth"},{"x":8.4,"y":4,"g":"Oth"},{"x":2.6,"y":3.88,"g":"Oth"},{"x":3.8,"y":3.92,"g":"Oth"},{"x":4.7,"y":3.72,"g":"Oth"},{"x":3,"y":3.64,"g":"Oth"},{"x":4,"y":3.56,"g":"Oth"},{"x":2.6,"y":3.48,"g":"Oth"},{"x":3.5,"y":3.32,"g":"Oth"},{"x":4.7,"y":3.48,"g":"Oth"},{"x":2.8,"y":3.16,"g":"Oth"},{"x":3.8,"y":3,"g":"Oth"},{"x":5.3,"y":2.92,"g":"Oth"},{"x":6.65,"y":3.16,"g":"Oth"},{"x":2.6,"y":2.84,"g":"Oth"},{"x":3.3,"y":2.68,"g":"Oth"},{"x":4,"y":2.52,"g":"Oth"},{"x":2.8,"y":2.36,"g":"Oth"},{"x":3.5,"y":2.2,"g":"Oth"},{"x":2.6,"y":2.04,"g":"Oth"},{"x":3.3,"y":1.88,"g":"Oth"},{"x":4.4,"y":1.83,"g":"Oth"},{"x":15,"y":3.32,"g":"Oth"},{"x":10.2,"y":5.92,"g":"Oth"},{"x":8,"y":4.77,"g":"Oth"},{"x":3.3,"y":5.4,"g":"Oth"},{"x":4.4,"y":5.1,"g":"Oth"},{"x":3.1,"y":4.95,"g":"Oth"},{"x":3.9,"y":4.8,"g":"Oth"},{"x":3,"y":4.6,"g":"Oth"},{"x":3.5,"y":4.3,"g":"Oth"},{"x":4.4,"y":4.4,"g":"Oth"},{"x":2.9,"y":4.15,"g":"Oth"},{"x":3.9,"y":4.15,"g":"Oth"},{"x":3.1,"y":3.95,"g":"Oth"},{"x":4.3,"y":3.95,"g":"Oth"},{"x":3.5,"y":3.75,"g":"Oth"},{"x":2.9,"y":3.45,"g":"Oth"},{"x":3.4,"y":3.55,"g":"Oth"},{"x":4.2,"y":3.25,"g":"Oth"},{"x":3.1,"y":3,"g":"Oth"},{"x":3.6,"y":2.85,"g":"Oth"},{"x":4.5,"y":3,"g":"Oth"},{"x":3,"y":5.4,"g":"Oth"},{"x":3.6,"y":5.6,"g":"Oth"},{"x":2.8,"y":5,"g":"Oth"},{"x":3.7,"y":4.4,"g":"Oth"},{"x":3.2,"y":4.4,"g":"Oth"},{"x":2.8,"y":4.5,"g":"Oth"},{"x":3.4,"y":3.95,"g":"Oth"},{"x":2.8,"y":3.75,"g":"Oth"},{"x":3.3,"y":3.3,"g":"Oth"},{"x":3,"y":3.35,"g":"Oth"},{"x":2.9,"y":2.9,"g":"Oth"},{"x":3.6,"y":3.15,"g":"Oth"},{"x":3.1,"y":2.55,"g":"Oth"},{"x":3.7,"y":2.5,"g":"Oth"},
{"x":8.9,"y":5.41,"g":"ISG"},{"x":7.5,"y":5.25,"g":"ISG"},{"x":10,"y":4.82,"g":"ISG"},{"x":8.6,"y":4.69,"g":"ISG"},{"x":7.8,"y":4.6,"g":"ISG"},{"x":11.8,"y":4.37,"g":"ISG"},{"x":9.3,"y":4.4,"g":"ISG"},{"x":8.4,"y":4.29,"g":"ISG"},{"x":7.5,"y":4.13,"g":"ISG"},{"x":5.75,"y":4.6,"g":"ISG"},{"x":4.85,"y":4.45,"g":"ISG"},{"x":3.8,"y":4.7,"g":"ISG"},{"x":4.4,"y":4.05,"g":"ISG"},{"x":5.75,"y":3.96,"g":"ISG"},{"x":8.4,"y":3.96,"g":"ISG"},{"x":6.65,"y":3.72,"g":"ISG"},{"x":5.75,"y":3.64,"g":"ISG"},{"x":4.85,"y":3.6,"g":"ISG"},{"x":7.1,"y":3.56,"g":"ISG"},{"x":8.4,"y":3.53,"g":"ISG"},{"x":9.3,"y":3.53,"g":"ISG"},{"x":10.5,"y":3.43,"g":"ISG"},{"x":6.65,"y":3.4,"g":"ISG"},{"x":5.6,"y":3.4,"g":"ISG"},{"x":7.5,"y":3.27,"g":"ISG"},{"x":4.7,"y":3.24,"g":"ISG"},{"x":8,"y":2.97,"g":"ISG"},{"x":4.85,"y":2.23,"g":"ISG"},{"x":5.3,"y":2.2,"g":"ISG"},{"x":6.2,"y":3.48,"g":"ISG"},{"x":5.2,"y":3.55,"g":"ISG"},{"x":5.9,"y":3.25,"g":"ISG"},{"x":5.3,"y":3.3,"g":"ISG"},{"x":6.1,"y":3.75,"g":"ISG"},
{"x":2.5,"y":7.7,"g":"Cyt"},{"x":7.7,"y":7.22,"g":"Cyt"},{"x":3.8,"y":5.73,"g":"Cyt"},{"x":5.75,"y":5.68,"g":"Cyt"},{"x":4.85,"y":5.41,"g":"Cyt"},{"x":6.65,"y":5.49,"g":"Cyt"},{"x":3.5,"y":5.49,"g":"Cyt"},{"x":7.1,"y":5,"g":"Cyt"},{"x":8,"y":4.98,"g":"Cyt"},{"x":10.2,"y":4.88,"g":"Cyt"},{"x":9.8,"y":4.69,"g":"Cyt"},{"x":4.85,"y":5,"g":"Cyt"},{"x":3,"y":5.17,"g":"Cyt"},{"x":2.6,"y":4.37,"g":"Cyt"},{"x":4,"y":4.29,"g":"Cyt"},{"x":5.75,"y":4.2,"g":"Cyt"},{"x":6.65,"y":4.05,"g":"Cyt"},{"x":3.5,"y":3.72,"g":"Cyt"},{"x":3,"y":3.24,"g":"Cyt"},{"x":4,"y":3.16,"g":"Cyt"},{"x":2.6,"y":3,"g":"Cyt"},{"x":4.85,"y":3.8,"g":"Cyt"},{"x":7.5,"y":4.45,"g":"Cyt"},{"x":6.4,"y":4.6,"g":"Cyt"},
{"x":11.76,"y":5.73,"g":"IFN"},{"x":12.74,"y":5.62,"g":"IFN"},{"x":15.6,"y":5.41,"g":"IFN"},{"x":15.6,"y":5.14,"g":"IFN"},{"x":15.8,"y":5,"g":"IFN"},{"x":15.4,"y":4.93,"g":"IFN"},{"x":16,"y":4.85,"g":"IFN"},{"x":15.6,"y":4.72,"g":"IFN"},{"x":17,"y":4.64,"g":"IFN"},{"x":16,"y":4.56,"g":"IFN"},{"x":16.5,"y":4.49,"g":"IFN"},{"x":16.3,"y":4.29,"g":"IFN"},{"x":15.2,"y":4.13,"g":"IFN"},{"x":18.3,"y":4.09,"g":"IFN"},{"x":11.6,"y":4.01,"g":"IFN"},{"x":12.5,"y":4.13,"g":"IFN"},{"x":12.7,"y":4.04,"g":"IFN"},{"x":14.7,"y":3.77,"g":"IFN"},{"x":10.7,"y":3.4,"g":"IFN"},{"x":11.8,"y":3.32,"g":"IFN"}]},"mark":{"type":"circle","size":12,"opacity":1},"encoding":{"color":{"field":"g","type":"nominal","scale":{"domain":["IFN","ISG","Cyt","Oth","Not"],"range":["#E41A1C","#9B30F0","#5B9BFF","#1a1a1a","#666666"]},"legend":null}}},
{"data":{"values":[{"x":-3.39,"x2":-16.6,"y":-2.13},{"x":1,"x2":14.3,"y":-2.13}]},"mark":{"type":"rule","strokeWidth":2.5,"color":"black"},"encoding":{"x2":{"field":"x2"}}},
{"data":{"values":[{"x":-16.6,"y":-2.13}]},"mark":{"type":"point","shape":"triangle-left","size":110,"filled":true,"color":"black","opacity":1}},
{"data":{"values":[{"x":14.3,"y":-2.13}]},"mark":{"type":"point","shape":"triangle-right","size":110,"filled":true,"color":"black","opacity":1}},
{"data":{"values":[{"x":1.85,"y":9.5,"t":"CpG+CXCL4 vs Unstim."},{"x":-11.1,"y":-3.02,"t":"Decreased"},{"x":10.05,"y":-3.02,"t":"Increased"}]},"mark":{"type":"text","style":"lab"},"encoding":{"text":{"field":"t"}}},
{"data":{"values":[{"x":-31.4,"y":9.59,"t":"D"}]},"mark":{"type":"text","style":"let2"},"encoding":{"text":{"field":"t"}}}
]},

{"encoding":{"x":{"field":"x","type":"quantitative","scale":{"domain":[-8.93,8.72],"range":[619.3,772.3],"nice":false,"zero":false},"axis":{"orient":"bottom","offset":-446,"values":[-8,-5,-2.5,0,2.5,5,8],"format":"~g","title":"Log2 Fold Change","titlePadding":1}},"y":{"field":"y","type":"quantitative","scale":{"domain":[-0.5,9.1],"range":[523,323.3],"nice":false,"zero":false},"axis":{"orient":"left","offset":-619.3,"values":[0,2.5,5,7.5],"format":".1f","title":null}}},
"layer":[
{"data":{"values":[{"arm":"L","y":0,"x":-0.4,"x2":0.1},{"arm":"L","y":0.29,"x":-0.96,"x2":0.19},{"arm":"L","y":0.77,"x":-1.54,"x2":-0.08},{"arm":"L","y":1.09,"x":-1.73,"x2":-0.38},{"arm":"L","y":1.89,"x":-2.31,"x2":-0.77},{"arm":"L","y":2.69,"x":-2.69,"x2":-0.96},{"arm":"L","y":3.49,"x":-2.69,"x2":-1.15},{"arm":"L","y":4.29,"x":-2.4,"x2":-1.2},{"arm":"L","y":4.78,"x":-2.1,"x2":-1.4},{"arm":"L","y":5.1,"x":-1.8,"x2":-1.6},{"arm":"R","y":0,"x":-0.4,"x2":0.5},{"arm":"R","y":0.45,"x":-0.38,"x2":0.96},{"arm":"R","y":1.09,"x":-0.27,"x2":1.15},{"arm":"R","y":1.89,"x":-0.08,"x2":1.73},{"arm":"R","y":2.69,"x":0,"x2":1.73},{"arm":"R","y":3.49,"x":0.08,"x2":1.73},{"arm":"R","y":4.29,"x":0.25,"x2":1.6},{"arm":"R","y":5.1,"x":0.7,"x2":1.5},{"arm":"R","y":5.58,"x":1.1,"x2":1.3}]},"mark":{"type":"area","orient":"horizontal","color":"#666"},"encoding":{"x2":{"field":"x2"},"detail":{"field":"arm"}}},
{"data":{"values":[{"x":-4.6,"y":6.35},{"x":-2.04,"y":6.06},{"x":-2.42,"y":5.77},{"x":-2.1,"y":5.7},{"x":-2.23,"y":5.45},{"x":-3.38,"y":5.22},{"x":-4.3,"y":4.89},{"x":1.15,"y":5.66},{"x":1.46,"y":5.7},{"x":2.3,"y":4.89},{"x":2.1,"y":4.45},{"x":2.3,"y":3.73},{"x":-3.27,"y":3.97},{"x":-3.46,"y":2.85},{"x":-3.27,"y":2.53},{"x":-2.9,"y":1.49},{"x":-2.3,"y":1.25},{"x":2.2,"y":0.77},{"x":2.5,"y":2.05},{"x":2.7,"y":1.97},{"x":4.54,"y":2.37},{"x":5.08,"y":2.45},{"x":3.96,"y":2},{"x":5.5,"y":2.03},{"x":-3.08,"y":3.65},{"x":-2.9,"y":4.8},{"x":-2.8,"y":4.4},{"x":-3,"y":3.2},{"x":-2.9,"y":2.2},{"x":-2.4,"y":1},{"x":2,"y":3.2},{"x":2,"y":2.5},{"x":2,"y":1.6},{"x":1.8,"y":4.9},{"x":-2.5,"y":5},{"x":-2.6,"y":3.8},{"x":-2.9,"y":3.3},{"x":-2.8,"y":2.5},{"x":-2.6,"y":1.8},{"x":-1.9,"y":0.8},{"x":1.9,"y":4.2},{"x":1.95,"y":2.9},{"x":1.4,"y":0.8},{"x":-2.1,"y":5.2},{"x":-1.6,"y":5},{"x":0.8,"y":5.35}]},"mark":{"type":"circle","size":12,"opacity":1,"color":"#666"}},
{"data":{"values":[{"x":6.42,"y":4.49,"g":"IFN"},{"x":3.65,"y":3.93,"g":"IFN"},{"x":6.92,"y":3.89,"g":"IFN"},{"x":6.08,"y":3.46,"g":"IFN"},{"x":6.42,"y":3.33,"g":"IFN"},{"x":7.04,"y":3.54,"g":"IFN"},{"x":7.42,"y":3.6,"g":"IFN"},{"x":5.27,"y":3.22,"g":"IFN"},{"x":7.04,"y":3.25,"g":"IFN"},{"x":6.73,"y":3.04,"g":"IFN"},{"x":6.54,"y":2.9,"g":"IFN"},{"x":6.92,"y":2.9,"g":"IFN"},{"x":6.65,"y":2.77,"g":"IFN"},{"x":6.92,"y":2.8,"g":"IFN"},{"x":5.77,"y":2.5,"g":"IFN"},{"x":6.27,"y":2.5,"g":"IFN"},{"x":4.08,"y":4.1,"g":"Oth"},{"x":3.65,"y":3.73,"g":"Oth"},{"x":7.42,"y":3.14,"g":"Oth"},{"x":2.62,"y":2.85,"g":"Oth"},{"x":4.42,"y":2.58,"g":"Oth"},{"x":3.65,"y":3.22,"g":"Cyt"}]},"mark":{"type":"circle","size":12,"opacity":1},"encoding":{"color":{"field":"g","type":"nominal","scale":{"domain":["IFN","ISG","Cyt","Oth","Not"],"range":["#E41A1C","#9B30F0","#5B9BFF","#1a1a1a","#666666"]},"legend":null}}},
{"data":{"values":[{"x":-0.97,"x2":-6.65,"y":-2.19},{"x":0.96,"x2":6.64,"y":-2.19}]},"mark":{"type":"rule","strokeWidth":2.5,"color":"black"},"encoding":{"x2":{"field":"x2"}}},
{"data":{"values":[{"x":-6.65,"y":-2.19}]},"mark":{"type":"point","shape":"triangle-left","size":110,"filled":true,"color":"black","opacity":1}},
{"data":{"values":[{"x":6.64,"y":-2.19}]},"mark":{"type":"point","shape":"triangle-right","size":110,"filled":true,"color":"black","opacity":1}},
{"data":{"values":[{"x":-0.46,"y":9.42,"t":"CpG+CXCL4 vs CpG"},{"x":-4.23,"y":-3.08,"t":"Decreased"},{"x":4.8,"y":-3.08,"t":"Increased"}]},"mark":{"type":"text","style":"lab"},"encoding":{"text":{"field":"t"}}},
{"data":{"values":[{"x":-12.5,"y":9.5,"t":"E"}]},"mark":{"type":"text","style":"let2"},"encoding":{"text":{"field":"t"}}}
]},

{"encoding":{"x":{"field":"x","type":"quantitative","scale":{"domain":[0,12.6],"range":[25.7,238.6],"nice":false,"zero":false},"axis":null},"y":{"field":"y","type":"quantitative","scale":{"domain":[0,1],"range":[371,340],"nice":false,"zero":false},"axis":null}},
"layer":[
{"data":{"values":[{"x":0.09,"x2":2.7,"y":0},{"x":3.47,"x2":6.07,"y":0},{"x":6.72,"x2":9.27,"y":0},{"x":9.82,"x2":12.34,"y":0}]},"mark":{"type":"rule","strokeWidth":2,"color":"black"},"encoding":{"x2":{"field":"x2"}}},
{"data":{"values":[{"x":1.17,"y":0.29,"t":"unstim"},{"x":4.63,"y":0.29,"t":"CXCL4"},{"x":8.05,"y":0.29,"t":"CpG"},{"x":11.16,"y":0.84,"t":"CXCL4+"},{"x":11.16,"y":0.29,"t":"CpG"}]},"mark":{"type":"text","fontSize":13,"color":"black"},"encoding":{"text":{"field":"t"}}},
{"data":{"values":[{"x":-0.7,"y":0,"t":"Groups"}]},"mark":{"type":"text","fontSize":14,"angle":270,"color":"black"},"encoding":{"text":{"field":"t"}}},
{"data":{"values":[{"x":-1.4,"y":1.16,"t":"F"}]},"mark":{"type":"text","style":"let2"},"encoding":{"text":{"field":"t"}}}
]},

{"resolve":{"scale":{"x":"independent","y":"independent"},"axis":{"x":"independent","y":"independent"}},
"layer":[
{"data":{"name":"genes"},"transform":[{"filter":"datum.k=='Type I IFNs'"}],"mark":{"type":"rect","stroke":"#999","strokeWidth":0.7},"encoding":{"x":{"datum":"Groups","type":"nominal","scale":{"range":[8.3,23.3]},"axis":null},"y":{"field":"g","type":"nominal","scale":{"range":[402.3,672.5]},"axis":null},"color":{"field":"k","type":"nominal","scale":{"domain":["Type I IFNs","Type III IFNs"],"range":["#84CFD3","#DB7F78"]},"legend":{"orient":"none","legendX":27,"legendY":736,"title":"gene.type","titleFontSize":14,"titleColor":"black","labelFontSize":14,"labelColor":"black","symbolType":"square","symbolSize":288,"symbolStrokeColor":"#999","symbolOpacity":1,"rowPadding":-2,"labelOffset":4,"titlePadding":2}}}},
{"data":{"name":"genes"},"transform":[{"filter":"datum.k=='Type III IFNs'"}],"mark":{"type":"rect","stroke":"#999","strokeWidth":0.7},"encoding":{"x":{"datum":"Groups","type":"nominal","scale":{"range":[8.3,23.3]},"axis":null},"y":{"field":"g","type":"nominal","scale":{"range":[675.7,718.7]},"axis":null},"color":{"field":"k","type":"nominal"}}}
]},

{"data":{"name":"heat"},"resolve":{"scale":{"x":"independent","y":"independent"},"axis":{"x":"independent","y":"independent"}},
"encoding":{"color":{"field":"v","type":"quantitative"}},
"layer":[
{"transform":[{"filter":"datum.t=='u'&&!test(/L/,datum.g)"}],"mark":{"type":"rect","stroke":"#8f8f8f","strokeWidth":0.7},"encoding":{"color":{"field":"v","type":"quantitative","scale":{"domain":[-8.1,-5.1,-2.1,-0.3,1.5,3.9,6.9,9.9,12.85],"range":["#4659A3","#7F9BC6","#BCD0E2","#E4ECF0","#FBFCC0","#F6DC8E","#DF9A5E","#C0593F","#A5362F"],"interpolate":"rgb","clamp":true},"legend":{"orient":"none","legendX":304,"legendY":402,"title":null,"gradientLength":142,"gradientThickness":9,"values":[-5,0,5,10],"labelFontSize":14,"labelColor":"black","direction":"vertical","tickCount":4}},"x":{"field":"c","type":"ordinal","scale":{"range":[25.7,76.3]},"axis":{"orient":"top","offset":-402.3,"title":null,"domain":false,"ticks":false,"labelFont":"Liberation Sans","labelFontSize":14,"labelColor":"black","labelAngle":0,"labelPadding":7}},"y":{"field":"g","type":"nominal","scale":{"range":[402.3,672.5]},"axis":null}}},
{"transform":[{"filter":"datum.t=='x'&&!test(/L/,datum.g)"}],"mark":{"type":"rect","stroke":"#8f8f8f","strokeWidth":0.7},"encoding":{"x":{"field":"c","type":"ordinal","scale":{"range":[79.3,129.3]},"axis":{"orient":"top","offset":-402.3,"title":null,"domain":false,"ticks":false,"labelFont":"Liberation Sans","labelFontSize":14,"labelColor":"black","labelAngle":0,"labelPadding":7}},"y":{"field":"g","type":"nominal","scale":{"range":[402.3,672.5]},"axis":null}}},
{"transform":[{"filter":"datum.t=='p'&&!test(/L/,datum.g)"}],"mark":{"type":"rect","stroke":"#8f8f8f","strokeWidth":0.7},"encoding":{"x":{"field":"c","type":"ordinal","scale":{"range":[133,183]},"axis":{"orient":"top","offset":-402.3,"title":null,"domain":false,"ticks":false,"labelFont":"Liberation Sans","labelFontSize":14,"labelColor":"black","labelAngle":0,"labelPadding":7}},"y":{"field":"g","type":"nominal","scale":{"range":[402.3,672.5]},"axis":null}}},
{"transform":[{"filter":"datum.t=='b'&&!test(/L/,datum.g)"}],"mark":{"type":"rect","stroke":"#8f8f8f","strokeWidth":0.7},"encoding":{"x":{"field":"c","type":"ordinal","scale":{"range":[186.7,236.7]},"axis":{"orient":"top","offset":-402.3,"title":null,"domain":false,"ticks":false,"labelFont":"Liberation Sans","labelFontSize":14,"labelColor":"black","labelAngle":0,"labelPadding":7}},"y":{"field":"g","type":"nominal","scale":{"range":[402.3,672.5]},"axis":{"orient":"right","offset":-538,"title":null,"domain":false,"ticks":false,"labelFont":"Liberation Sans","labelFontSize":14,"labelColor":"black","labelPadding":2}}}},
{"transform":[{"filter":"datum.t=='u'&&test(/L/,datum.g)"}],"mark":{"type":"rect","stroke":"#8f8f8f","strokeWidth":0.7},"encoding":{"x":{"field":"c","type":"ordinal","scale":{"range":[25.7,76.3]},"axis":null},"y":{"field":"g","type":"nominal","scale":{"range":[675.7,718.7]},"axis":null}}},
{"transform":[{"filter":"datum.t=='x'&&test(/L/,datum.g)"}],"mark":{"type":"rect","stroke":"#8f8f8f","strokeWidth":0.7},"encoding":{"x":{"field":"c","type":"ordinal","scale":{"range":[79.3,129.3]},"axis":null},"y":{"field":"g","type":"nominal","scale":{"range":[675.7,718.7]},"axis":null}}},
{"transform":[{"filter":"datum.t=='p'&&test(/L/,datum.g)"}],"mark":{"type":"rect","stroke":"#8f8f8f","strokeWidth":0.7},"encoding":{"x":{"field":"c","type":"ordinal","scale":{"range":[133,183]},"axis":null},"y":{"field":"g","type":"nominal","scale":{"range":[675.7,718.7]},"axis":null}}},
{"transform":[{"filter":"datum.t=='b'&&test(/L/,datum.g)"}],"mark":{"type":"rect","stroke":"#8f8f8f","strokeWidth":0.7},"encoding":{"x":{"field":"c","type":"ordinal","scale":{"range":[186.7,236.7]},"axis":null},"y":{"field":"g","type":"nominal","scale":{"range":[675.7,718.7]},"axis":{"orient":"right","offset":-538,"title":null,"domain":false,"ticks":false,"labelFont":"Liberation Sans","labelFontSize":14,"labelColor":"black","labelPadding":2}}}}
]},

{"encoding":{"x":{"field":"x","type":"quantitative","scale":{"domain":[130,1250],"range":[393.3,766.7],"nice":false,"zero":false},"axis":{"orient":"bottom","offset":-1.3,"labels":false,"ticks":false,"title":null,"domainColor":"#222","domainWidth":1.2}},"y":{"field":"y","type":"quantitative","scale":{"domain":[-1.385,9.3],"range":[967.7,633],"nice":false,"zero":false},"axis":{"orient":"left","offset":-393.3,"values":[0,2.5,5,7.5],"format":".1f","labelFont":"Liberation Sans","labelFontSize":9.5,"labelColor":"#666","domainColor":"#222","domainWidth":1.2,"title":"logFC","titleFontSize":10.5,"titlePadding":8}}},
"layer":[
{"data":{"values":[
{"x":243,"y":3.74,"n":30,"s":"FDR < 0.01"},{"x":300,"y":3.1,"n":63,"s":"FDR < 0.01"},{"x":266,"y":2.53,"n":17,"s":"FDR < 0.01"},{"x":328,"y":2.37,"n":13,"s":"FDR < 0.01"},{"x":254,"y":2.1,"n":17,"s":"FDR < 0.01"},{"x":264,"y":2.04,"n":25,"s":"FDR < 0.01"},{"x":342,"y":2.16,"n":42,"s":"FDR < 0.01"},{"x":232,"y":1.67,"n":30,"s":"FDR < 0.01"},{"x":308,"y":1.59,"n":13,"s":"FDR < 0.01"},{"x":356,"y":1.57,"n":13,"s":"FDR < 0.01"},{"x":248,"y":1.16,"n":13,"s":"FDR < 0.01"},{"x":330,"y":1.07,"n":17,"s":"FDR < 0.01"},{"x":286,"y":0.96,"n":13,"s":"FDR < 0.01"},{"x":352,"y":0.97,"n":36,"s":"FDR < 0.01"},{"x":314,"y":0.84,"n":13,"s":"FDR < 0.01"},{"x":183,"y":0.84,"n":25,"s":"FDR < 0.01"},{"x":188,"y":0.86,"n":25,"s":"FDR < 0.01"},{"x":192,"y":0.82,"n":25,"s":"FDR < 0.01"},{"x":196,"y":0.88,"n":25,"s":"FDR < 0.01"},{"x":200,"y":0.83,"n":25,"s":"FDR < 0.01"},{"x":204,"y":1.03,"n":25,"s":"FDR < 0.01"},{"x":198,"y":0.97,"n":20,"s":"FDR < 0.01"},{"x":206,"y":0.78,"n":25,"s":"FDR < 0.01"},{"x":210,"y":0.83,"n":25,"s":"FDR < 0.01"},{"x":214,"y":0.74,"n":25,"s":"FDR < 0.01"},{"x":218,"y":0.83,"n":25,"s":"FDR < 0.01"},{"x":222,"y":0.88,"n":25,"s":"FDR < 0.01"},{"x":226,"y":0.78,"n":25,"s":"FDR < 0.01"},{"x":232,"y":0.83,"n":25,"s":"FDR < 0.01"},{"x":236,"y":0.95,"n":25,"s":"FDR < 0.01"},{"x":240,"y":0.71,"n":20,"s":"FDR < 0.01"},{"x":185,"y":0.53,"n":42,"s":"FDR < 0.01"},{"x":192,"y":0.24,"n":42,"s":"FDR < 0.01"},{"x":237,"y":0.3,"n":55,"s":"FDR < 0.01"},{"x":262,"y":0.29,"n":20,"s":"FDR < 0.01"},{"x":272,"y":0.69,"n":25,"s":"FDR < 0.01"},{"x":250,"y":0.56,"n":36,"s":"FDR < 0.01"},{"x":246,"y":0.62,"n":25,"s":"FDR < 0.01"},{"x":258,"y":0.54,"n":17,"s":"FDR < 0.01"},{"x":276,"y":0.48,"n":25,"s":"FDR < 0.01"},{"x":290,"y":0.56,"n":36,"s":"FDR < 0.01"},{"x":285,"y":0.44,"n":36,"s":"FDR < 0.01"},{"x":300,"y":0.46,"n":20,"s":"FDR < 0.01"},{"x":295,"y":0.33,"n":17,"s":"FDR < 0.01"},{"x":305,"y":0.4,"n":25,"s":"FDR < 0.01"},{"x":312,"y":0.33,"n":25,"s":"FDR < 0.01"},{"x":320,"y":0.62,"n":55,"s":"FDR < 0.01"},{"x":325,"y":0.54,"n":25,"s":"FDR < 0.01"},{"x":318,"y":0.46,"n":25,"s":"FDR < 0.01"},{"x":328,"y":0.37,"n":17,"s":"FDR < 0.01"},{"x":350,"y":0.62,"n":20,"s":"FDR < 0.01"},{"x":345,"y":0.19,"n":30,"s":"FDR < 0.01"},{"x":347,"y":0.3,"n":17,"s":"FDR < 0.01"},{"x":255,"y":0.48,"n":30,"s":"FDR < 0.01"},{"x":268,"y":0.5,"n":25,"s":"FDR < 0.01"},{"x":282,"y":0.52,"n":25,"s":"FDR < 0.01"},{"x":298,"y":0.42,"n":30,"s":"FDR < 0.01"},{"x":308,"y":0.36,"n":36,"s":"FDR < 0.01"},{"x":316,"y":0.3,"n":25,"s":"FDR < 0.01"},{"x":335,"y":0.3,"n":17,"s":"FDR < 0.01"},{"x":242,"y":-0.33,"n":20,"s":"FDR < 0.01"},{"x":260,"y":-0.4,"n":17,"s":"FDR < 0.01"},{"x":270,"y":-0.27,"n":20,"s":"FDR < 0.01"},{"x":278,"y":-0.39,"n":17,"s":"FDR < 0.01"},{"x":298,"y":-0.24,"n":20,"s":"FDR < 0.01"},{"x":300,"y":-0.39,"n":13,"s":"FDR < 0.01"},{"x":320,"y":-0.4,"n":13,"s":"FDR < 0.01"},{"x":340,"y":-0.44,"n":17,"s":"FDR < 0.01"},{"x":332,"y":-0.55,"n":10,"s":"FDR < 0.01"},{"x":268,"y":-0.74,"n":13,"s":"FDR < 0.01"},{"x":310,"y":-0.65,"n":13,"s":"FDR < 0.01"},{"x":324,"y":-0.71,"n":10,"s":"FDR < 0.01"},{"x":296,"y":-0.91,"n":17,"s":"FDR < 0.01"},
{"x":208,"y":8.8,"n":13,"s":"FDR < 0.01"},{"x":220,"y":7.21,"n":13,"s":"FDR < 0.01"},{"x":197,"y":5.87,"n":25,"s":"FDR < 0.01"},
{"x":456,"y":2.05,"n":118,"s":"FDR < 0.05"},{"x":533,"y":1.49,"n":80,"s":"FDR < 0.05"},{"x":366,"y":1.45,"n":17,"s":"FDR < 0.05"},{"x":424,"y":1.3,"n":25,"s":"FDR < 0.05"},{"x":396,"y":0.89,"n":20,"s":"FDR < 0.05"},{"x":446,"y":0.73,"n":42,"s":"FDR < 0.05"},{"x":385,"y":0.4,"n":80,"s":"FDR < 0.05"},{"x":470,"y":0.51,"n":80,"s":"FDR < 0.05"},{"x":490,"y":0.43,"n":48,"s":"FDR < 0.05"},{"x":515,"y":0.64,"n":13,"s":"FDR < 0.05"},{"x":520,"y":0.54,"n":25,"s":"FDR < 0.05"},{"x":530,"y":0.35,"n":36,"s":"FDR < 0.05"},{"x":375,"y":0.62,"n":13,"s":"FDR < 0.05"},{"x":365,"y":0.39,"n":13,"s":"FDR < 0.05"},{"x":400,"y":0.27,"n":17,"s":"FDR < 0.05"},{"x":410,"y":0.24,"n":17,"s":"FDR < 0.05"},{"x":405,"y":0.22,"n":17,"s":"FDR < 0.05"},{"x":415,"y":0.29,"n":17,"s":"FDR < 0.05"},{"x":430,"y":0.3,"n":36,"s":"FDR < 0.05"},{"x":437,"y":0.29,"n":25,"s":"FDR < 0.05"},{"x":462,"y":0.35,"n":17,"s":"FDR < 0.05"},{"x":480,"y":0.24,"n":17,"s":"FDR < 0.05"},{"x":498,"y":0.3,"n":17,"s":"FDR < 0.05"},{"x":512,"y":0.14,"n":13,"s":"FDR < 0.05"},{"x":535,"y":0.3,"n":17,"s":"FDR < 0.05"},{"x":545,"y":0.27,"n":13,"s":"FDR < 0.05"},{"x":392,"y":0.3,"n":36,"s":"FDR < 0.05"},{"x":378,"y":0.33,"n":25,"s":"FDR < 0.05"},{"x":420,"y":0.22,"n":20,"s":"FDR < 0.05"},{"x":425,"y":0.3,"n":25,"s":"FDR < 0.05"},{"x":458,"y":0.4,"n":36,"s":"FDR < 0.05"},{"x":478,"y":0.4,"n":36,"s":"FDR < 0.05"},{"x":505,"y":0.25,"n":13,"s":"FDR < 0.05"},{"x":540,"y":0.35,"n":25,"s":"FDR < 0.05"},{"x":355,"y":-0.4,"n":17,"s":"FDR < 0.05"},{"x":365,"y":-0.35,"n":13,"s":"FDR < 0.05"},{"x":375,"y":-0.31,"n":10,"s":"FDR < 0.05"},{"x":382,"y":-0.13,"n":10,"s":"FDR < 0.05"},{"x":398,"y":-0.27,"n":20,"s":"FDR < 0.05"},{"x":405,"y":-0.31,"n":17,"s":"FDR < 0.05"},{"x":418,"y":-0.23,"n":25,"s":"FDR < 0.05"},{"x":430,"y":-0.18,"n":25,"s":"FDR < 0.05"},{"x":415,"y":-0.36,"n":10,"s":"FDR < 0.05"},{"x":440,"y":-0.29,"n":17,"s":"FDR < 0.05"},{"x":460,"y":-0.36,"n":25,"s":"FDR < 0.05"},{"x":450,"y":-0.39,"n":17,"s":"FDR < 0.05"},{"x":472,"y":-0.32,"n":13,"s":"FDR < 0.05"},{"x":488,"y":-0.26,"n":13,"s":"FDR < 0.05"},{"x":506,"y":-0.16,"n":17,"s":"FDR < 0.05"},{"x":516,"y":-0.18,"n":13,"s":"FDR < 0.05"},{"x":520,"y":-0.37,"n":13,"s":"FDR < 0.05"},{"x":532,"y":-0.23,"n":13,"s":"FDR < 0.05"},{"x":492,"y":-0.47,"n":10,"s":"FDR < 0.05"},{"x":380,"y":-0.54,"n":10,"s":"FDR < 0.05"},{"x":363,"y":-0.61,"n":10,"s":"FDR < 0.05"},{"x":426,"y":-0.88,"n":13,"s":"FDR < 0.05"},{"x":440,"y":-0.45,"n":10,"s":"FDR < 0.05"},
{"x":590,"y":0.46,"n":88,"s":"FDR < 0.1"},{"x":557,"y":0.59,"n":10,"s":"FDR < 0.1"},{"x":570,"y":0.39,"n":13,"s":"FDR < 0.1"},{"x":580,"y":0.3,"n":17,"s":"FDR < 0.1"},{"x":600,"y":0.3,"n":25,"s":"FDR < 0.1"},{"x":612,"y":0.19,"n":17,"s":"FDR < 0.1"},{"x":622,"y":0.3,"n":30,"s":"FDR < 0.1"},{"x":630,"y":0.24,"n":17,"s":"FDR < 0.1"},{"x":640,"y":0.27,"n":17,"s":"FDR < 0.1"},{"x":595,"y":0.19,"n":10,"s":"FDR < 0.1"},{"x":610,"y":0.3,"n":25,"s":"FDR < 0.1"},{"x":618,"y":0.24,"n":25,"s":"FDR < 0.1"},{"x":545,"y":-0.23,"n":13,"s":"FDR < 0.1"},{"x":555,"y":-0.29,"n":17,"s":"FDR < 0.1"},{"x":565,"y":-0.35,"n":13,"s":"FDR < 0.1"},{"x":575,"y":-0.31,"n":10,"s":"FDR < 0.1"},{"x":585,"y":-0.18,"n":17,"s":"FDR < 0.1"},{"x":596,"y":-0.13,"n":25,"s":"FDR < 0.1"},{"x":605,"y":-0.2,"n":17,"s":"FDR < 0.1"},{"x":612,"y":-0.29,"n":13,"s":"FDR < 0.1"},{"x":628,"y":-0.14,"n":20,"s":"FDR < 0.1"},{"x":640,"y":-0.27,"n":13,"s":"FDR < 0.1"},{"x":650,"y":-0.23,"n":10,"s":"FDR < 0.1"},{"x":600,"y":-0.1,"n":17,"s":"FDR < 0.1"},{"x":590,"y":-0.22,"n":17,"s":"FDR < 0.1"},{"x":622,"y":-0.17,"n":17,"s":"FDR < 0.1"},
{"x":813,"y":0.86,"n":701,"s":"n.s."},{"x":808,"y":0.6,"n":140,"s":"n.s."},{"x":680,"y":0.44,"n":140,"s":"n.s."},{"x":737,"y":0.37,"n":247,"s":"n.s."},{"x":700,"y":0.3,"n":63,"s":"n.s."},{"x":720,"y":0.35,"n":63,"s":"n.s."},{"x":690,"y":0.14,"n":17,"s":"n.s."},{"x":655,"y":0.35,"n":17,"s":"n.s."},{"x":665,"y":0.19,"n":17,"s":"n.s."},{"x":745,"y":0.27,"n":48,"s":"n.s."},{"x":760,"y":0.3,"n":48,"s":"n.s."},{"x":775,"y":0.35,"n":36,"s":"n.s."},{"x":790,"y":0.27,"n":190,"s":"n.s."},{"x":800,"y":0.19,"n":63,"s":"n.s."},{"x":815,"y":0.24,"n":48,"s":"n.s."},{"x":830,"y":0.33,"n":36,"s":"n.s."},{"x":845,"y":0.27,"n":80,"s":"n.s."},{"x":860,"y":0.22,"n":48,"s":"n.s."},{"x":875,"y":0.3,"n":25,"s":"n.s."},{"x":890,"y":0.19,"n":48,"s":"n.s."},{"x":905,"y":0.24,"n":36,"s":"n.s."},{"x":920,"y":0.14,"n":25,"s":"n.s."},{"x":935,"y":0.19,"n":88,"s":"n.s."},{"x":950,"y":0.12,"n":25,"s":"n.s."},{"x":960,"y":0.22,"n":25,"s":"n.s."},{"x":975,"y":0.09,"n":17,"s":"n.s."},{"x":985,"y":0.12,"n":25,"s":"n.s."},{"x":1005,"y":0.37,"n":13,"s":"n.s."},{"x":1000,"y":0.19,"n":17,"s":"n.s."},{"x":1015,"y":0.12,"n":17,"s":"n.s."},{"x":1035,"y":-0.02,"n":165,"s":"n.s."},{"x":1050,"y":0.05,"n":36,"s":"n.s."},{"x":1065,"y":0.03,"n":25,"s":"n.s."},{"x":1080,"y":0,"n":25,"s":"n.s."},{"x":1095,"y":0.03,"n":17,"s":"n.s."},{"x":1110,"y":0.1,"n":97,"s":"n.s."},{"x":1130,"y":0.01,"n":25,"s":"n.s."},{"x":1145,"y":0.03,"n":140,"s":"n.s."},{"x":1165,"y":0.01,"n":25,"s":"n.s."},{"x":1175,"y":-0.02,"n":17,"s":"n.s."},{"x":1188,"y":-0.02,"n":97,"s":"n.s."},{"x":1195,"y":-0.01,"n":36,"s":"n.s."},{"x":672,"y":0.3,"n":36,"s":"n.s."},{"x":710,"y":0.22,"n":36,"s":"n.s."},{"x":728,"y":0.25,"n":48,"s":"n.s."},{"x":752,"y":0.2,"n":36,"s":"n.s."},{"x":768,"y":0.18,"n":36,"s":"n.s."},{"x":782,"y":0.2,"n":25,"s":"n.s."},{"x":825,"y":0.22,"n":36,"s":"n.s."},{"x":838,"y":0.2,"n":25,"s":"n.s."},{"x":852,"y":0.2,"n":36,"s":"n.s."},{"x":868,"y":0.15,"n":25,"s":"n.s."},{"x":882,"y":0.27,"n":25,"s":"n.s."},{"x":898,"y":0.15,"n":25,"s":"n.s."},{"x":912,"y":0.2,"n":36,"s":"n.s."},{"x":928,"y":0.12,"n":25,"s":"n.s."},{"x":945,"y":0.17,"n":36,"s":"n.s."},{"x":968,"y":0.12,"n":25,"s":"n.s."},{"x":992,"y":0.1,"n":25,"s":"n.s."},{"x":1008,"y":0.13,"n":25,"s":"n.s."},{"x":1022,"y":0.08,"n":25,"s":"n.s."},{"x":1042,"y":0.08,"n":36,"s":"n.s."},{"x":1058,"y":0.02,"n":25,"s":"n.s."},{"x":1072,"y":0.06,"n":17,"s":"n.s."},{"x":1088,"y":0.03,"n":17,"s":"n.s."},{"x":1102,"y":0.06,"n":25,"s":"n.s."},{"x":1122,"y":0.05,"n":36,"s":"n.s."},{"x":1138,"y":0.08,"n":36,"s":"n.s."},{"x":1158,"y":-0.01,"n":25,"s":"n.s."},{"x":1170,"y":0.01,"n":36,"s":"n.s."},{"x":1182,"y":0.02,"n":25,"s":"n.s."},{"x":715,"y":-0.32,"n":140,"s":"n.s."},{"x":695,"y":-0.69,"n":13,"s":"n.s."},{"x":700,"y":-0.57,"n":17,"s":"n.s."},{"x":680,"y":-0.18,"n":17,"s":"n.s."},{"x":665,"y":-0.27,"n":10,"s":"n.s."},{"x":740,"y":-0.18,"n":25,"s":"n.s."},{"x":750,"y":-0.13,"n":17,"s":"n.s."},{"x":730,"y":-0.22,"n":25,"s":"n.s."},{"x":760,"y":-0.23,"n":13,"s":"n.s."},{"x":785,"y":-0.39,"n":20,"s":"n.s."},{"x":795,"y":-0.18,"n":17,"s":"n.s."},{"x":810,"y":-0.23,"n":25,"s":"n.s."},{"x":825,"y":-0.16,"n":25,"s":"n.s."},{"x":840,"y":-0.18,"n":17,"s":"n.s."},{"x":850,"y":-0.37,"n":13,"s":"n.s."},{"x":865,"y":-0.13,"n":25,"s":"n.s."},{"x":880,"y":-0.18,"n":17,"s":"n.s."},{"x":900,"y":-0.16,"n":17,"s":"n.s."},{"x":918,"y":-0.13,"n":17,"s":"n.s."},{"x":940,"y":-0.29,"n":17,"s":"n.s."},{"x":955,"y":-0.1,"n":17,"s":"n.s."},{"x":970,"y":-0.16,"n":13,"s":"n.s."},{"x":990,"y":-0.07,"n":17,"s":"n.s."},{"x":1010,"y":-0.07,"n":17,"s":"n.s."},{"x":1025,"y":-0.1,"n":13,"s":"n.s."},{"x":1060,"y":-0.06,"n":17,"s":"n.s."},{"x":1120,"y":-0.02,"n":17,"s":"n.s."},{"x":1155,"y":-0.04,"n":17,"s":"n.s."},{"x":725,"y":-0.15,"n":25,"s":"n.s."},{"x":745,"y":-0.14,"n":17,"s":"n.s."},{"x":770,"y":-0.17,"n":17,"s":"n.s."},{"x":778,"y":-0.22,"n":25,"s":"n.s."},{"x":802,"y":-0.16,"n":17,"s":"n.s."},{"x":818,"y":-0.2,"n":17,"s":"n.s."},{"x":832,"y":-0.22,"n":17,"s":"n.s."},{"x":858,"y":-0.2,"n":17,"s":"n.s."},{"x":872,"y":-0.17,"n":25,"s":"n.s."},{"x":890,"y":-0.2,"n":17,"s":"n.s."},{"x":910,"y":-0.14,"n":17,"s":"n.s."},{"x":930,"y":-0.2,"n":17,"s":"n.s."},{"x":948,"y":-0.17,"n":17,"s":"n.s."},{"x":980,"y":-0.1,"n":17,"s":"n.s."},{"x":1000,"y":-0.13,"n":13,"s":"n.s."},{"x":1040,"y":-0.1,"n":13,"s":"n.s."},{"x":1075,"y":-0.06,"n":13,"s":"n.s."},{"x":1100,"y":-0.05,"n":13,"s":"n.s."}
]},"mark":{"type":"circle","stroke":"#333","strokeWidth":0.4,"opacity":0.75},"encoding":{"size":{"field":"n","type":"quantitative","scale":{"domain":[10,701],"range":[9,729]},"legend":null},"color":{"field":"s","type":"nominal","scale":{"domain":["FDR < 0.01","FDR < 0.05","FDR < 0.1","n.s."],"range":["#DD0A0A","#F0A018","#E57F74","#B8B8B8"]},"legend":{"orient":"none","legendX":705,"legendY":808,"title":"Significance","titleFontSize":9.3,"titleFontWeight":"normal","titleColor":"#222","labelFontSize":8.8,"labelColor":"#333","symbolType":"circle","symbolSize":64,"symbolStrokeColor":"#555","symbolStrokeWidth":0.5,"symbolOpacity":1,"rowPadding":0.5,"labelOffset":10}}}},
{"data":{"values":[{"x":1115,"y":7.85,"n":45},{"x":1115,"y":6.81,"n":172},{"x":1115,"y":5.74,"n":413},{"x":1115,"y":4.68,"n":685}]},"mark":{"type":"circle","fillOpacity":0,"fill":"white","stroke":"#888","strokeWidth":0.7},"encoding":{"size":{"field":"n","type":"quantitative","scale":{"domain":[10,701],"range":[9,729]},"legend":null}}},
{"data":{"values":[{"x":1167,"y":8.38,"y2":4.16}]},"mark":{"type":"rule","color":"#888","strokeWidth":0.8},"encoding":{"y2":{"field":"y2"}}},
{"data":{"values":[{"x":1145,"x2":1167,"y":8.38},{"x":1145,"x2":1167,"y":7.32},{"x":1145,"x2":1167,"y":6.25},{"x":1145,"x2":1167,"y":5.2},{"x":1145,"x2":1167,"y":4.16}]},"mark":{"type":"rule","color":"#888","strokeWidth":0.8},"encoding":{"x2":{"field":"x2"}}},
{"data":{"values":[{"x":1180,"y":8.38,"t":"10"},{"x":1180,"y":7.32,"t":"200"},{"x":1180,"y":6.25,"t":"400"},{"x":1180,"y":5.2,"t":"600"},{"x":1180,"y":4.16,"t":"701"},{"x":1065,"y":8.75,"t":"Pathway Size"}]},"mark":{"type":"text","fontSize":9,"align":"left","color":"#222"},"encoding":{"text":{"field":"t"}}},
{"data":{"values":[{"x":234,"y":8.8,"t":"Regulation of IFNA Signaling"},{"x":255,"y":7.21,"t":"IRF7 Signaling"}]},"mark":{"type":"text","fontSize":10.6,"align":"left","color":"#111"},"encoding":{"text":{"field":"t"}}},
{"data":{"values":[{"x":220,"y":5.87,"t":"IFNA/B Signaling"}]},"mark":{"type":"text","fontSize":12,"align":"left","color":"#111"},"encoding":{"text":{"field":"t"}}},
{"data":{"values":[{"x":130,"y":9.47,"t":"Reactome Pathway Analysis"}]},"mark":{"type":"text","fontSize":14.3,"align":"left","baseline":"alphabetic","color":"black"},"encoding":{"text":{"field":"t"}}},
{"data":{"values":[{"x":21,"y":9.31,"t":"G"}]},"mark":{"type":"text","style":"let2"},"encoding":{"text":{"field":"t"}}}
]}
]}
